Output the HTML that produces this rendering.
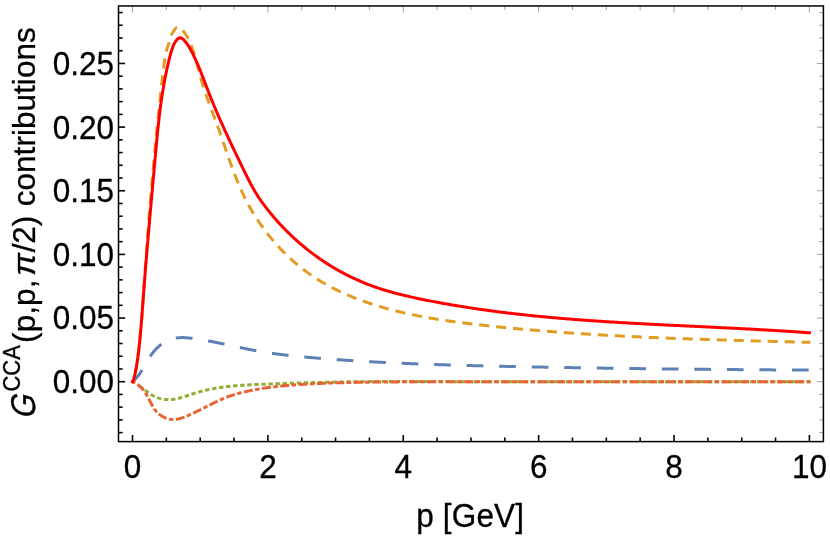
<!DOCTYPE html>
<html><head><meta charset="utf-8"><title>plot</title>
<style>
html,body{margin:0;padding:0;background:#fff;}
body{width:830px;height:538px;overflow:hidden;}
svg{display:block;will-change:transform;}
text{font-family:"Liberation Sans",sans-serif;fill:#000;stroke:#000;stroke-width:0.3px;}
.t{font-size:31.5px;}
.tk{stroke:#000;stroke-width:1.6;}
.tg{stroke:#666;stroke-width:0.6;}
.c{fill:none;stroke-width:3;stroke-linejoin:round;}
</style></head><body>
<svg width="830" height="538" viewBox="0 0 830 538">
<rect x="0" y="0" width="830" height="538" fill="#fff"/>
<g id="curves">
<path class="c" stroke="#5E81B5" stroke-dasharray="16.7 15.83" stroke-dashoffset="1.61" d="M132.50,381.70 L133.09,381.19 L133.67,380.67 L134.23,380.14 L134.78,379.60 L135.32,379.05 L135.84,378.48 L136.35,377.91 L136.86,377.32 L137.35,376.73 L137.83,376.13 L138.30,375.52 L138.77,374.90 L139.22,374.28 L139.67,373.64 L140.11,373.01 L140.55,372.36 L140.98,371.71 L141.40,371.06 L141.82,370.40 L142.23,369.73 L142.64,369.06 L143.05,368.39 L143.45,367.72 L143.86,367.04 L144.25,366.36 L144.65,365.68 L145.05,365.00 L145.45,364.32 L145.84,363.64 L146.24,362.95 L146.64,362.27 L147.04,361.59 L147.44,360.91 L147.85,360.24 L148.25,359.56 L148.66,358.89 L149.08,358.23 L149.50,357.56 L149.92,356.90 L150.35,356.25 L150.78,355.60 L151.22,354.95 L151.67,354.32 L152.12,353.68 L152.59,353.06 L153.06,352.44 L153.54,351.83 L154.03,351.23 L154.52,350.64 L155.03,350.06 L155.55,349.48 L156.08,348.92 L156.62,348.37 L157.17,347.82 L157.74,347.29 L158.31,346.77 L158.89,346.26 L159.49,345.77 L160.09,345.28 L160.70,344.81 L161.32,344.35 L161.96,343.90 L162.60,343.47 L163.24,343.05 L163.90,342.64 L164.57,342.25 L165.24,341.87 L165.92,341.51 L166.61,341.16 L167.30,340.82 L168.00,340.50 L168.71,340.20 L169.42,339.91 L170.14,339.64 L170.87,339.39 L171.60,339.15 L172.34,338.92 L173.08,338.72 L173.82,338.53 L174.57,338.36 L175.33,338.21 L176.09,338.07 L176.85,337.96 L177.62,337.86 L178.39,337.78 L179.16,337.71 L179.94,337.66 L180.72,337.63 L181.50,337.61 L182.28,337.60 L183.06,337.61 L183.85,337.62 L184.64,337.66 L185.42,337.70 L186.21,337.75 L187.00,337.81 L187.79,337.88 L188.58,337.96 L189.37,338.05 L190.16,338.14 L190.95,338.23 L191.74,338.33 L192.52,338.43 L193.31,338.53 L194.09,338.64 L194.88,338.75 L195.66,338.86 L196.44,338.97 L197.22,339.08 L197.99,339.20 L198.77,339.32 L199.55,339.44 L200.32,339.56 L201.09,339.68 L201.87,339.81 L202.64,339.94 L203.41,340.07 L204.18,340.20 L204.95,340.33 L205.71,340.46 L206.48,340.60 L207.25,340.74 L208.01,340.88 L208.77,341.02 L209.54,341.16 L210.30,341.30 L211.06,341.44 L211.82,341.59 L212.58,341.74 L213.34,341.88 L214.10,342.03 L214.86,342.18 L215.62,342.33 L216.37,342.49 L217.13,342.64 L217.88,342.79 L218.64,342.95 L219.39,343.10 L220.15,343.26 L220.90,343.42 L221.65,343.57 L222.41,343.73 L223.16,343.89 L223.91,344.05 L224.66,344.21 L225.41,344.37 L226.16,344.53 L226.91,344.69 L227.66,344.85 L228.41,345.01 L229.16,345.17 L229.91,345.34 L230.66,345.50 L231.41,345.66 L232.16,345.82 L232.91,345.98 L233.66,346.14 L234.41,346.31 L235.16,346.47 L235.90,346.63 L236.65,346.79 L237.40,346.95 L238.15,347.11 L238.90,347.27 L239.65,347.43 L240.40,347.59 L241.15,347.75 L241.90,347.91 L242.65,348.06 L243.40,348.22 L244.15,348.38 L244.90,348.53 L245.65,348.69 L246.40,348.84 L247.15,348.99 L247.90,349.14 L248.65,349.29 L249.40,349.44 L250.16,349.59 L250.91,349.74 L251.66,349.89 L252.42,350.03 L253.17,350.18 L253.93,350.32 L254.68,350.46 L255.44,350.60 L256.20,350.74 L256.95,350.87 L257.71,351.01 L258.47,351.14 L259.23,351.28 L259.99,351.41 L260.75,351.54 L261.51,351.67 L262.27,351.79 L263.03,351.92 L263.80,352.04 L264.56,352.17 L265.32,352.29 L266.09,352.41 L266.85,352.53 L267.62,352.64 L268.38,352.76 L269.15,352.88 L269.92,352.99 L270.68,353.10 L271.45,353.21 L272.22,353.32 L272.99,353.43 L273.76,353.54 L274.53,353.65 L275.30,353.75 L276.07,353.86 L276.84,353.96 L277.61,354.06 L278.38,354.16 L279.15,354.26 L279.93,354.36 L280.70,354.46 L281.47,354.56 L282.25,354.65 L283.02,354.75 L283.80,354.84 L284.57,354.93 L285.34,355.02 L286.12,355.12 L286.90,355.21 L287.67,355.29 L288.45,355.38 L289.22,355.47 L290.00,355.56 L290.78,355.64 L291.56,355.73 L292.33,355.81 L293.11,355.89 L293.89,355.97 L294.67,356.05 L295.45,356.14 L296.23,356.21 L297.00,356.29 L297.78,356.37 L298.56,356.45 L299.34,356.53 L300.12,356.60 L300.90,356.68 L301.68,356.75 L302.46,356.82 L303.24,356.90 L304.02,356.97 L304.80,357.04 L305.59,357.11 L306.37,357.18 L307.15,357.25 L307.93,357.32 L308.71,357.39 L309.49,357.46 L310.27,357.53 L311.05,357.60 L311.84,357.66 L312.62,357.73 L313.40,357.79 L314.18,357.86 L314.96,357.93 L315.74,357.99 L316.53,358.05 L317.31,358.12 L318.09,358.18 L318.87,358.24 L319.65,358.31 L320.43,358.37 L321.22,358.43 L322.00,358.49 L322.78,358.55 L323.56,358.61 L324.34,358.67 L325.12,358.73 L325.90,358.79 L326.69,358.85 L327.47,358.91 L328.25,358.97 L329.03,359.03 L329.81,359.09 L330.59,359.15 L331.37,359.20 L332.15,359.26 L332.94,359.32 L333.72,359.38 L334.50,359.43 L335.28,359.49 L336.06,359.54 L336.84,359.60 L337.62,359.65 L338.40,359.71 L339.18,359.76 L339.96,359.82 L340.74,359.87 L341.53,359.93 L342.31,359.98 L343.09,360.03 L343.87,360.08 L344.65,360.14 L345.43,360.19 L346.21,360.24 L346.99,360.29 L347.77,360.34 L348.55,360.39 L349.33,360.45 L350.11,360.50 L350.89,360.55 L351.67,360.60 L352.45,360.65 L353.23,360.69 L354.01,360.74 L354.79,360.79 L355.57,360.84 L356.35,360.89 L357.13,360.94 L357.91,360.98 L358.69,361.03 L359.47,361.08 L360.25,361.13 L361.03,361.17 L361.81,361.22 L362.59,361.26 L363.37,361.31 L364.15,361.35 L364.93,361.40 L365.71,361.44 L366.49,361.49 L367.27,361.53 L368.05,361.58 L368.83,361.62 L369.61,361.67 L370.39,361.71 L371.17,361.75 L371.95,361.79 L372.73,361.84 L373.50,361.88 L374.28,361.92 L375.06,361.96 L375.84,362.00 L376.62,362.05 L377.40,362.09 L378.18,362.13 L378.96,362.17 L379.74,362.21 L380.52,362.25 L381.30,362.29 L382.08,362.33 L382.85,362.37 L383.63,362.41 L384.41,362.44 L385.19,362.48 L385.97,362.52 L386.75,362.56 L387.53,362.60 L388.31,362.64 L389.08,362.67 L389.86,362.71 L390.64,362.75 L391.42,362.78 L392.20,362.82 L392.98,362.86 L393.76,362.89 L394.54,362.93 L395.31,362.96 L396.09,363.00 L396.87,363.04 L397.65,363.07 L398.43,363.11 L399.21,363.14 L399.98,363.17 L400.76,363.21 L401.54,363.24 L402.32,363.28 L403.10,363.31 L403.88,363.34 L404.65,363.38 L405.43,363.41 L406.21,363.44 L406.99,363.47 L407.77,363.51 L408.54,363.54 L409.32,363.57 L410.10,363.60 L410.88,363.63 L411.66,363.67 L412.43,363.70 L413.21,363.73 L413.99,363.76 L414.77,363.79 L415.55,363.82 L416.32,363.85 L417.10,363.88 L417.88,363.91 L418.66,363.94 L419.44,363.97 L420.21,364.00 L420.99,364.03 L421.77,364.06 L422.55,364.08 L423.32,364.11 L424.10,364.14 L424.88,364.17 L425.66,364.20 L426.43,364.23 L427.21,364.25 L427.99,364.28 L428.77,364.31 L429.54,364.33 L430.32,364.36 L431.10,364.39 L431.88,364.42 L432.65,364.44 L433.43,364.47 L434.21,364.49 L434.98,364.52 L435.76,364.55 L436.54,364.57 L437.32,364.60 L438.09,364.62 L438.87,364.65 L439.65,364.67 L440.43,364.70 L441.20,364.72 L441.98,364.75 L442.76,364.77 L443.53,364.80 L444.31,364.82 L445.09,364.85 L445.86,364.87 L446.64,364.89 L447.42,364.92 L448.20,364.94 L448.97,364.96 L449.75,364.99 L450.53,365.01 L451.30,365.03 L452.08,365.06 L452.86,365.08 L453.63,365.10 L454.41,365.12 L455.19,365.15 L455.96,365.17 L456.74,365.19 L457.52,365.21 L458.29,365.23 L459.07,365.26 L459.85,365.28 L460.62,365.30 L461.40,365.32 L462.18,365.34 L462.95,365.36 L463.73,365.38 L464.51,365.40 L465.28,365.43 L466.06,365.45 L466.84,365.47 L467.61,365.49 L468.39,365.51 L469.17,365.53 L469.94,365.55 L470.72,365.57 L471.50,365.59 L472.27,365.61 L473.05,365.63 L473.82,365.65 L474.60,365.67 L475.38,365.69 L476.15,365.71 L476.93,365.72 L477.71,365.74 L478.48,365.76 L479.26,365.78 L480.04,365.80 L480.81,365.82 L481.59,365.84 L482.36,365.86 L483.14,365.88 L483.92,365.89 L484.69,365.91 L485.47,365.93 L486.24,365.95 L487.02,365.97 L487.80,365.98 L488.57,366.00 L489.35,366.02 L490.13,366.04 L490.90,366.06 L491.68,366.07 L492.45,366.09 L493.23,366.11 L494.01,366.13 L494.78,366.14 L495.56,366.16 L496.33,366.18 L497.11,366.20 L497.89,366.21 L498.66,366.23 L499.44,366.25 L500.21,366.26 L500.99,366.28 L501.77,366.30 L502.54,366.31 L503.32,366.33 L504.09,366.35 L504.87,366.36 L505.64,366.38 L506.42,366.40 L507.20,366.41 L507.97,366.43 L508.75,366.45 L509.52,366.46 L510.30,366.48 L511.08,366.50 L511.85,366.51 L512.63,366.53 L513.40,366.54 L514.18,366.56 L514.95,366.58 L515.73,366.59 L516.51,366.61 L517.28,366.62 L518.06,366.64 L518.83,366.66 L519.61,366.67 L520.38,366.69 L521.16,366.70 L521.94,366.72 L522.71,366.73 L523.49,366.75 L524.26,366.77 L525.04,366.78 L525.81,366.80 L526.59,366.81 L527.36,366.83 L528.14,366.84 L528.92,366.86 L529.69,366.87 L530.47,366.89 L531.24,366.90 L532.02,366.92 L532.79,366.93 L533.57,366.95 L534.35,366.96 L535.12,366.98 L535.90,366.99 L536.67,367.01 L537.45,367.02 L538.22,367.04 L539.00,367.05 L539.77,367.07 L540.55,367.08 L541.32,367.10 L542.10,367.11 L542.88,367.12 L543.65,367.14 L544.43,367.15 L545.20,367.17 L545.98,367.18 L546.75,367.20 L547.53,367.21 L548.30,367.22 L549.08,367.24 L549.85,367.25 L550.63,367.27 L551.41,367.28 L552.18,367.29 L552.96,367.31 L553.73,367.32 L554.51,367.34 L555.28,367.35 L556.06,367.36 L556.83,367.38 L557.61,367.39 L558.38,367.40 L559.16,367.42 L559.94,367.43 L560.71,367.44 L561.49,367.46 L562.26,367.47 L563.04,367.48 L563.81,367.50 L564.59,367.51 L565.36,367.52 L566.14,367.54 L566.91,367.55 L567.69,367.56 L568.47,367.58 L569.24,367.59 L570.02,367.60 L570.79,367.62 L571.57,367.63 L572.34,367.64 L573.12,367.65 L573.89,367.67 L574.67,367.68 L575.44,367.69 L576.22,367.71 L576.99,367.72 L577.77,367.73 L578.55,367.74 L579.32,367.76 L580.10,367.77 L580.87,367.78 L581.65,367.79 L582.42,367.81 L583.20,367.82 L583.97,367.83 L584.75,367.84 L585.52,367.85 L586.30,367.87 L587.07,367.88 L587.85,367.89 L588.63,367.90 L589.40,367.92 L590.18,367.93 L590.95,367.94 L591.73,367.95 L592.50,367.96 L593.28,367.98 L594.05,367.99 L594.83,368.00 L595.60,368.01 L596.38,368.02 L597.16,368.03 L597.93,368.05 L598.71,368.06 L599.48,368.07 L600.26,368.08 L601.03,368.09 L601.81,368.10 L602.58,368.11 L603.36,368.13 L604.13,368.14 L604.91,368.15 L605.69,368.16 L606.46,368.17 L607.24,368.18 L608.01,368.19 L608.79,368.20 L609.56,368.22 L610.34,368.23 L611.11,368.24 L611.89,368.25 L612.67,368.26 L613.44,368.27 L614.22,368.28 L614.99,368.29 L615.77,368.30 L616.54,368.31 L617.32,368.32 L618.09,368.33 L618.87,368.35 L619.65,368.36 L620.42,368.37 L621.20,368.38 L621.97,368.39 L622.75,368.40 L623.52,368.41 L624.30,368.42 L625.08,368.43 L625.85,368.44 L626.63,368.45 L627.40,368.46 L628.18,368.47 L628.95,368.48 L629.73,368.49 L630.51,368.50 L631.28,368.51 L632.06,368.52 L632.83,368.53 L633.61,368.54 L634.38,368.55 L635.16,368.56 L635.94,368.57 L636.71,368.58 L637.49,368.59 L638.26,368.60 L639.04,368.61 L639.81,368.62 L640.59,368.63 L641.37,368.64 L642.14,368.65 L642.92,368.66 L643.69,368.67 L644.47,368.68 L645.25,368.69 L646.02,368.70 L646.80,368.71 L647.57,368.72 L648.35,368.73 L649.13,368.74 L649.90,368.74 L650.68,368.75 L651.45,368.76 L652.23,368.77 L653.01,368.78 L653.78,368.79 L654.56,368.80 L655.33,368.81 L656.11,368.82 L656.89,368.83 L657.66,368.84 L658.44,368.85 L659.21,368.85 L659.99,368.86 L660.77,368.87 L661.54,368.88 L662.32,368.89 L663.09,368.90 L663.87,368.91 L664.65,368.92 L665.42,368.92 L666.20,368.93 L666.98,368.94 L667.75,368.95 L668.53,368.96 L669.30,368.97 L670.08,368.98 L670.86,368.99 L671.63,368.99 L672.41,369.00 L673.19,369.01 L673.96,369.02 L674.74,369.03 L675.52,369.04 L676.29,369.04 L677.07,369.05 L677.85,369.06 L678.62,369.07 L679.40,369.08 L680.17,369.09 L680.95,369.09 L681.73,369.10 L682.50,369.11 L683.28,369.12 L684.06,369.13 L684.83,369.13 L685.61,369.14 L686.39,369.15 L687.16,369.16 L687.94,369.17 L688.72,369.17 L689.49,369.18 L690.27,369.19 L691.05,369.20 L691.82,369.20 L692.60,369.21 L693.38,369.22 L694.16,369.23 L694.93,369.24 L695.71,369.24 L696.49,369.25 L697.26,369.26 L698.04,369.27 L698.82,369.27 L699.59,369.28 L700.37,369.29 L701.15,369.30 L701.92,369.30 L702.70,369.31 L703.48,369.32 L704.26,369.33 L705.03,369.33 L705.81,369.34 L706.59,369.35 L707.36,369.35 L708.14,369.36 L708.92,369.37 L709.70,369.38 L710.47,369.38 L711.25,369.39 L712.03,369.40 L712.81,369.40 L713.58,369.41 L714.36,369.42 L715.14,369.43 L715.91,369.43 L716.69,369.44 L717.47,369.45 L718.25,369.45 L719.02,369.46 L719.80,369.47 L720.58,369.47 L721.36,369.48 L722.13,369.49 L722.91,369.49 L723.69,369.50 L724.47,369.51 L725.25,369.51 L726.02,369.52 L726.80,369.53 L727.58,369.53 L728.36,369.54 L729.13,369.55 L729.91,369.55 L730.69,369.56 L731.47,369.57 L732.25,369.57 L733.02,369.58 L733.80,369.59 L734.58,369.59 L735.36,369.60 L736.14,369.61 L736.91,369.61 L737.69,369.62 L738.47,369.63 L739.25,369.63 L740.03,369.64 L740.80,369.64 L741.58,369.65 L742.36,369.66 L743.14,369.66 L743.92,369.67 L744.69,369.67 L745.47,369.68 L746.25,369.69 L747.03,369.69 L747.81,369.70 L748.59,369.71 L749.37,369.71 L750.14,369.72 L750.92,369.72 L751.70,369.73 L752.48,369.74 L753.26,369.74 L754.04,369.75 L754.81,369.75 L755.59,369.76 L756.37,369.76 L757.15,369.77 L757.93,369.78 L758.71,369.78 L759.49,369.79 L760.27,369.79 L761.05,369.80 L761.82,369.80 L762.60,369.81 L763.38,369.82 L764.16,369.82 L764.94,369.83 L765.72,369.83 L766.50,369.84 L767.28,369.84 L768.06,369.85 L768.84,369.85 L769.61,369.86 L770.39,369.87 L771.17,369.87 L771.95,369.88 L772.73,369.88 L773.51,369.89 L774.29,369.89 L775.07,369.90 L775.85,369.90 L776.63,369.91 L777.41,369.91 L778.19,369.92 L778.97,369.93 L779.75,369.93 L780.53,369.94 L781.31,369.94 L782.09,369.95 L782.87,369.95 L783.65,369.96 L784.42,369.96 L785.20,369.97 L785.98,369.97 L786.76,369.98 L787.54,369.98 L788.32,369.99 L789.10,369.99 L789.88,370.00 L790.66,370.00 L791.44,370.01 L792.22,370.01 L793.00,370.02 L793.78,370.02 L794.56,370.03 L795.35,370.03 L796.13,370.04 L796.91,370.04 L797.69,370.05 L798.47,370.05 L799.25,370.06 L800.03,370.06 L800.81,370.07 L801.59,370.07 L802.37,370.08 L803.15,370.08 L803.93,370.09 L804.71,370.09 L805.49,370.09 L806.27,370.10 L807.05,370.10 L807.83,370.11 L808.61,370.11 L809.40,370.12 L810.40,370.12"/>
<path class="c" stroke="#E19C24" stroke-dasharray="10.1 6.9" stroke-dashoffset="7.91" d="M132.50,381.70 L132.98,380.56 L133.43,379.40 L133.85,378.21 L134.23,377.00 L134.59,375.78 L134.92,374.54 L135.22,373.28 L135.51,372.02 L135.77,370.74 L136.02,369.45 L136.25,368.16 L136.47,366.87 L136.67,365.57 L136.87,364.27 L137.06,362.98 L137.25,361.69 L137.43,360.40 L137.60,359.12 L137.77,357.83 L137.94,356.55 L138.10,355.27 L138.26,354.00 L138.41,352.72 L138.56,351.45 L138.71,350.18 L138.85,348.91 L138.99,347.64 L139.13,346.37 L139.27,345.10 L139.40,343.83 L139.53,342.56 L139.66,341.29 L139.79,340.02 L139.91,338.75 L140.04,337.48 L140.16,336.21 L140.28,334.94 L140.40,333.66 L140.52,332.39 L140.63,331.11 L140.75,329.84 L140.86,328.56 L140.98,327.29 L141.09,326.01 L141.20,324.73 L141.31,323.46 L141.42,322.18 L141.52,320.90 L141.63,319.62 L141.73,318.34 L141.84,317.06 L141.94,315.78 L142.04,314.50 L142.14,313.22 L142.24,311.94 L142.34,310.65 L142.44,309.37 L142.54,308.09 L142.63,306.81 L142.73,305.52 L142.82,304.24 L142.92,302.95 L143.01,301.67 L143.10,300.38 L143.20,299.10 L143.29,297.81 L143.38,296.53 L143.47,295.24 L143.56,293.96 L143.65,292.67 L143.74,291.38 L143.83,290.10 L143.92,288.81 L144.01,287.52 L144.09,286.23 L144.18,284.95 L144.27,283.66 L144.36,282.37 L144.45,281.08 L144.53,279.79 L144.62,278.51 L144.71,277.22 L144.79,275.93 L144.88,274.64 L144.97,273.35 L145.05,272.06 L145.14,270.77 L145.23,269.49 L145.32,268.20 L145.40,266.91 L145.49,265.62 L145.58,264.33 L145.67,263.04 L145.76,261.75 L145.85,260.46 L145.94,259.17 L146.03,257.89 L146.12,256.60 L146.21,255.31 L146.30,254.02 L146.39,252.73 L146.48,251.44 L146.57,250.15 L146.67,248.87 L146.76,247.58 L146.85,246.29 L146.95,245.00 L147.04,243.71 L147.13,242.43 L147.23,241.14 L147.32,239.85 L147.42,238.56 L147.52,237.28 L147.61,235.99 L147.71,234.70 L147.81,233.41 L147.90,232.13 L148.00,230.84 L148.10,229.55 L148.20,228.26 L148.30,226.98 L148.40,225.69 L148.50,224.40 L148.60,223.12 L148.70,221.83 L148.80,220.55 L148.90,219.26 L149.00,217.97 L149.11,216.69 L149.21,215.40 L149.31,214.12 L149.42,212.83 L149.52,211.55 L149.62,210.26 L149.73,208.98 L149.83,207.69 L149.94,206.41 L150.04,205.12 L150.15,203.84 L150.25,202.55 L150.36,201.27 L150.47,199.98 L150.58,198.70 L150.68,197.42 L150.79,196.13 L150.90,194.85 L151.01,193.57 L151.12,192.28 L151.23,191.00 L151.34,189.72 L151.45,188.43 L151.56,187.15 L151.67,185.87 L151.78,184.59 L151.89,183.31 L152.01,182.02 L152.12,180.74 L152.23,179.46 L152.34,178.18 L152.46,176.90 L152.57,175.62 L152.69,174.34 L152.80,173.06 L152.92,171.78 L153.03,170.50 L153.15,169.22 L153.26,167.94 L153.38,166.66 L153.50,165.38 L153.61,164.10 L153.73,162.82 L153.85,161.54 L153.97,160.27 L154.08,158.99 L154.20,157.71 L154.32,156.43 L154.44,155.15 L154.56,153.88 L154.68,152.60 L154.80,151.32 L154.92,150.05 L155.05,148.77 L155.17,147.50 L155.29,146.22 L155.41,144.94 L155.53,143.67 L155.66,142.39 L155.78,141.12 L155.90,139.85 L156.03,138.57 L156.15,137.30 L156.28,136.02 L156.40,134.75 L156.53,133.48 L156.65,132.20 L156.78,130.93 L156.91,129.66 L157.03,128.39 L157.16,127.12 L157.29,125.84 L157.42,124.57 L157.54,123.30 L157.67,122.03 L157.80,120.76 L157.93,119.49 L158.06,118.22 L158.19,116.95 L158.32,115.68 L158.45,114.41 L158.58,113.14 L158.71,111.88 L158.84,110.61 L158.98,109.34 L159.11,108.07 L159.24,106.81 L159.37,105.54 L159.51,104.27 L159.64,103.01 L159.77,101.74 L159.91,100.48 L160.04,99.21 L160.18,97.95 L160.31,96.68 L160.45,95.42 L160.58,94.15 L160.72,92.89 L160.86,91.63 L160.99,90.36 L161.13,89.10 L161.27,87.84 L161.41,86.57 L161.55,85.31 L161.69,84.04 L161.83,82.78 L161.98,81.51 L162.12,80.24 L162.27,78.97 L162.42,77.70 L162.57,76.43 L162.72,75.16 L162.87,73.89 L163.03,72.61 L163.19,71.33 L163.35,70.05 L163.51,68.77 L163.68,67.48 L163.84,66.20 L164.01,64.91 L164.19,63.61 L164.36,62.32 L164.55,61.02 L164.73,59.73 L164.93,58.43 L165.14,57.14 L165.37,55.86 L165.60,54.58 L165.86,53.31 L166.14,52.05 L166.43,50.80 L166.75,49.57 L167.10,48.35 L167.48,47.14 L167.88,45.95 L168.29,44.77 L168.68,43.57 L169.04,42.35 L169.36,41.11 L169.67,39.85 L169.99,38.59 L170.36,37.35 L170.79,36.13 L171.32,34.95 L171.95,33.82 L172.65,32.71 L173.36,31.59 L174.04,30.46 L174.74,29.35 L175.56,28.38 L176.62,27.66 L177.91,27.30 L179.19,27.37 L180.30,27.87 L181.29,28.67 L182.19,29.67 L183.03,30.75 L183.83,31.83 L184.59,32.89 L185.33,33.95 L186.04,35.00 L186.72,36.06 L187.37,37.14 L188.00,38.24 L188.60,39.36 L189.17,40.51 L189.72,41.68 L190.25,42.86 L190.76,44.06 L191.25,45.26 L191.72,46.47 L192.17,47.68 L192.61,48.89 L193.02,50.11 L193.43,51.32 L193.82,52.54 L194.20,53.76 L194.56,54.97 L194.92,56.19 L195.27,57.41 L195.60,58.63 L195.94,59.85 L196.26,61.08 L196.58,62.30 L196.90,63.52 L197.21,64.75 L197.52,65.97 L197.83,67.20 L198.15,68.42 L198.46,69.65 L198.78,70.88 L199.09,72.10 L199.42,73.33 L199.75,74.56 L200.09,75.79 L200.43,77.02 L200.78,78.25 L201.14,79.48 L201.51,80.71 L201.88,81.94 L202.26,83.17 L202.64,84.40 L203.04,85.63 L203.43,86.86 L203.84,88.10 L204.24,89.33 L204.66,90.56 L205.07,91.79 L205.49,93.02 L205.92,94.26 L206.35,95.49 L206.78,96.72 L207.22,97.95 L207.66,99.18 L208.10,100.41 L208.55,101.65 L209.00,102.88 L209.45,104.11 L209.90,105.34 L210.35,106.57 L210.81,107.80 L211.27,109.03 L211.72,110.26 L212.18,111.49 L212.64,112.72 L213.10,113.94 L213.56,115.17 L214.02,116.40 L214.47,117.63 L214.93,118.85 L215.38,120.08 L215.84,121.30 L216.29,122.53 L216.74,123.75 L217.19,124.97 L217.64,126.20 L218.08,127.42 L218.52,128.64 L218.96,129.86 L219.39,131.08 L219.82,132.30 L220.25,133.51 L220.68,134.73 L221.10,135.95 L221.53,137.16 L221.95,138.37 L222.37,139.59 L222.78,140.80 L223.20,142.01 L223.62,143.22 L224.03,144.43 L224.44,145.63 L224.86,146.84 L225.27,148.05 L225.68,149.25 L226.09,150.45 L226.51,151.66 L226.92,152.86 L227.33,154.06 L227.75,155.25 L228.16,156.45 L228.58,157.65 L228.99,158.84 L229.41,160.03 L229.83,161.23 L230.26,162.42 L230.68,163.61 L231.11,164.79 L231.53,165.98 L231.96,167.16 L232.40,168.35 L232.83,169.53 L233.27,170.71 L233.72,171.89 L234.16,173.07 L234.61,174.24 L235.06,175.41 L235.52,176.59 L235.98,177.76 L236.45,178.93 L236.92,180.09 L237.39,181.26 L237.87,182.42 L238.36,183.59 L238.85,184.75 L239.34,185.91 L239.84,187.06 L240.35,188.22 L240.86,189.37 L241.38,190.52 L241.90,191.67 L242.43,192.82 L242.97,193.97 L243.51,195.11 L244.07,196.25 L244.62,197.39 L245.19,198.53 L245.76,199.67 L246.34,200.80 L246.93,201.93 L247.53,203.06 L248.13,204.19 L248.75,205.32 L249.37,206.44 L250.00,207.56 L250.63,208.68 L251.28,209.79 L251.93,210.91 L252.59,212.02 L253.26,213.13 L253.94,214.23 L254.62,215.33 L255.31,216.43 L256.01,217.53 L256.71,218.62 L257.43,219.71 L258.15,220.79 L258.88,221.87 L259.61,222.95 L260.35,224.03 L261.10,225.10 L261.86,226.16 L262.62,227.23 L263.40,228.29 L264.17,229.34 L264.96,230.39 L265.75,231.44 L266.55,232.48 L267.35,233.52 L268.16,234.55 L268.98,235.58 L269.80,236.60 L270.64,237.62 L271.47,238.63 L272.32,239.64 L273.17,240.64 L274.02,241.64 L274.89,242.63 L275.75,243.62 L276.63,244.60 L277.51,245.58 L278.40,246.55 L279.29,247.51 L280.19,248.47 L281.09,249.43 L282.00,250.37 L282.92,251.31 L283.84,252.25 L284.77,253.18 L285.70,254.10 L286.64,255.02 L287.59,255.93 L288.54,256.83 L289.49,257.72 L290.45,258.61 L291.42,259.50 L292.39,260.37 L293.36,261.24 L294.34,262.10 L295.33,262.95 L296.32,263.80 L297.32,264.64 L298.32,265.47 L299.32,266.29 L300.33,267.11 L301.35,267.92 L302.37,268.72 L303.39,269.51 L304.42,270.30 L305.45,271.07 L306.49,271.84 L307.53,272.60 L308.58,273.35 L309.63,274.10 L310.69,274.83 L311.74,275.56 L312.81,276.28 L313.88,276.99 L314.95,277.69 L316.02,278.39 L317.10,279.07 L318.18,279.75 L319.27,280.43 L320.36,281.09 L321.46,281.75 L322.56,282.40 L323.66,283.04 L324.76,283.67 L325.87,284.30 L326.98,284.92 L328.10,285.53 L329.22,286.14 L330.34,286.74 L331.46,287.33 L332.59,287.91 L333.72,288.49 L334.86,289.06 L336.00,289.63 L337.14,290.19 L338.28,290.74 L339.43,291.28 L340.58,291.82 L341.73,292.36 L342.88,292.88 L344.04,293.41 L345.20,293.92 L346.36,294.43 L347.53,294.93 L348.69,295.43 L349.86,295.92 L351.03,296.41 L352.21,296.89 L353.39,297.37 L354.56,297.84 L355.74,298.30 L356.93,298.76 L358.11,299.21 L359.30,299.66 L360.49,300.11 L361.68,300.54 L362.87,300.98 L364.07,301.40 L365.26,301.83 L366.46,302.25 L367.66,302.66 L368.87,303.07 L370.07,303.47 L371.28,303.87 L372.49,304.26 L373.70,304.65 L374.91,305.04 L376.12,305.42 L377.34,305.79 L378.55,306.16 L379.77,306.53 L380.99,306.89 L382.22,307.24 L383.44,307.60 L384.67,307.95 L385.89,308.29 L387.12,308.63 L388.35,308.96 L389.58,309.30 L390.82,309.62 L392.05,309.95 L393.29,310.27 L394.53,310.58 L395.76,310.89 L397.01,311.20 L398.25,311.50 L399.49,311.80 L400.74,312.10 L401.98,312.39 L403.23,312.68 L404.48,312.96 L405.73,313.24 L406.98,313.52 L408.23,313.79 L409.48,314.06 L410.74,314.33 L412.00,314.60 L413.25,314.86 L414.51,315.11 L415.77,315.37 L417.03,315.62 L418.29,315.86 L419.55,316.11 L420.82,316.35 L422.08,316.59 L423.35,316.82 L424.61,317.05 L425.88,317.28 L427.15,317.51 L428.42,317.73 L429.69,317.95 L430.96,318.17 L432.23,318.39 L433.50,318.60 L434.77,318.81 L436.05,319.02 L437.32,319.22 L438.60,319.42 L439.87,319.62 L441.15,319.82 L442.42,320.01 L443.70,320.21 L444.98,320.40 L446.26,320.59 L447.54,320.77 L448.82,320.96 L450.10,321.14 L451.38,321.32 L452.66,321.49 L453.94,321.67 L455.22,321.84 L456.51,322.02 L457.79,322.19 L459.07,322.35 L460.36,322.52 L461.64,322.69 L462.92,322.85 L464.21,323.01 L465.49,323.17 L466.78,323.33 L468.06,323.49 L469.35,323.64 L470.63,323.80 L471.92,323.95 L473.20,324.10 L474.49,324.25 L475.77,324.40 L477.06,324.55 L478.35,324.69 L479.63,324.84 L480.92,324.98 L482.20,325.13 L483.49,325.27 L484.77,325.41 L486.06,325.55 L487.34,325.69 L488.63,325.83 L489.91,325.97 L491.20,326.10 L492.48,326.24 L493.77,326.37 L495.05,326.51 L496.34,326.64 L497.62,326.77 L498.91,326.91 L500.19,327.04 L501.48,327.17 L502.76,327.30 L504.04,327.42 L505.33,327.55 L506.61,327.68 L507.90,327.80 L509.18,327.93 L510.46,328.05 L511.75,328.17 L513.03,328.30 L514.31,328.42 L515.60,328.54 L516.88,328.66 L518.16,328.78 L519.45,328.90 L520.73,329.01 L522.01,329.13 L523.30,329.25 L524.58,329.36 L525.86,329.47 L527.14,329.59 L528.43,329.70 L529.71,329.81 L530.99,329.92 L532.27,330.03 L533.56,330.14 L534.84,330.25 L536.12,330.36 L537.40,330.47 L538.69,330.57 L539.97,330.68 L541.25,330.78 L542.53,330.89 L543.81,330.99 L545.10,331.09 L546.38,331.20 L547.66,331.30 L548.94,331.40 L550.22,331.50 L551.50,331.60 L552.79,331.69 L554.07,331.79 L555.35,331.89 L556.63,331.99 L557.91,332.08 L559.19,332.18 L560.47,332.27 L561.76,332.36 L563.04,332.46 L564.32,332.55 L565.60,332.64 L566.88,332.73 L568.16,332.82 L569.44,332.91 L570.72,333.00 L572.00,333.09 L573.29,333.18 L574.57,333.26 L575.85,333.35 L577.13,333.43 L578.41,333.52 L579.69,333.60 L580.97,333.69 L582.25,333.77 L583.53,333.85 L584.81,333.93 L586.09,334.02 L587.37,334.10 L588.65,334.18 L589.94,334.26 L591.22,334.34 L592.50,334.41 L593.78,334.49 L595.06,334.57 L596.34,334.64 L597.62,334.72 L598.90,334.80 L600.18,334.87 L601.46,334.95 L602.74,335.02 L604.02,335.09 L605.30,335.16 L606.58,335.24 L607.86,335.31 L609.14,335.38 L610.42,335.45 L611.70,335.52 L612.98,335.59 L614.26,335.66 L615.54,335.73 L616.82,335.79 L618.11,335.86 L619.39,335.93 L620.67,335.99 L621.95,336.06 L623.23,336.13 L624.51,336.19 L625.79,336.25 L627.07,336.32 L628.35,336.38 L629.63,336.44 L630.91,336.51 L632.19,336.57 L633.47,336.63 L634.75,336.69 L636.03,336.75 L637.31,336.81 L638.59,336.87 L639.87,336.93 L641.15,336.99 L642.43,337.05 L643.71,337.11 L644.99,337.16 L646.28,337.22 L647.56,337.28 L648.84,337.33 L650.12,337.39 L651.40,337.44 L652.68,337.50 L653.96,337.55 L655.24,337.61 L656.52,337.66 L657.80,337.72 L659.08,337.77 L660.36,337.82 L661.64,337.87 L662.93,337.93 L664.21,337.98 L665.49,338.03 L666.77,338.08 L668.05,338.13 L669.33,338.18 L670.61,338.23 L671.89,338.28 L673.17,338.33 L674.46,338.38 L675.74,338.42 L677.02,338.47 L678.30,338.52 L679.58,338.57 L680.86,338.61 L682.14,338.66 L683.43,338.71 L684.71,338.75 L685.99,338.80 L687.27,338.84 L688.55,338.89 L689.84,338.93 L691.12,338.98 L692.40,339.02 L693.68,339.07 L694.96,339.11 L696.25,339.15 L697.53,339.20 L698.81,339.24 L700.09,339.28 L701.37,339.33 L702.66,339.37 L703.94,339.41 L705.22,339.45 L706.50,339.49 L707.79,339.53 L709.07,339.58 L710.35,339.62 L711.64,339.66 L712.92,339.70 L714.20,339.74 L715.49,339.78 L716.77,339.82 L718.05,339.86 L719.34,339.90 L720.62,339.93 L721.90,339.97 L723.19,340.01 L724.47,340.05 L725.75,340.09 L727.04,340.13 L728.32,340.16 L729.60,340.20 L730.89,340.24 L732.17,340.28 L733.46,340.31 L734.74,340.35 L736.03,340.39 L737.31,340.43 L738.60,340.46 L739.88,340.50 L741.16,340.53 L742.45,340.57 L743.73,340.61 L745.02,340.64 L746.30,340.68 L747.59,340.71 L748.88,340.75 L750.16,340.79 L751.45,340.82 L752.73,340.86 L754.02,340.89 L755.30,340.93 L756.59,340.96 L757.88,341.00 L759.16,341.03 L760.45,341.07 L761.73,341.10 L763.02,341.14 L764.31,341.17 L765.59,341.20 L766.88,341.24 L768.17,341.27 L769.45,341.31 L770.74,341.34 L772.03,341.38 L773.32,341.41 L774.60,341.44 L775.89,341.48 L777.18,341.51 L778.47,341.55 L779.75,341.58 L781.04,341.62 L782.33,341.65 L783.62,341.68 L784.91,341.72 L786.20,341.75 L787.48,341.79 L788.77,341.82 L790.06,341.85 L791.35,341.89 L792.64,341.92 L793.93,341.96 L795.22,341.99 L796.51,342.02 L797.80,342.06 L799.09,342.09 L800.38,342.13 L801.67,342.16 L802.96,342.20 L804.25,342.23 L805.54,342.26 L806.83,342.30 L808.12,342.33 L809.41,342.37 L810.40,342.39"/>
<path class="c" stroke="#8FB032" stroke-dasharray="4.4 2.68" stroke-dashoffset="5.03" d="M137.77,384.76 L138.39,385.20 L139.00,385.65 L139.61,386.09 L140.21,386.53 L140.82,386.98 L141.41,387.42 L142.01,387.86 L142.61,388.30 L143.20,388.75 L143.80,389.19 L144.40,389.63 L145.00,390.08 L145.60,390.53 L146.21,390.99 L146.82,391.45 L147.43,391.91 L148.05,392.37 L148.67,392.84 L149.29,393.29 L149.93,393.74 L150.57,394.19 L151.22,394.62 L151.87,395.03 L152.53,395.43 L153.20,395.81 L153.88,396.18 L154.57,396.52 L155.27,396.84 L155.97,397.15 L156.68,397.43 L157.39,397.70 L158.11,397.95 L158.84,398.18 L159.57,398.39 L160.31,398.58 L161.05,398.76 L161.79,398.92 L162.54,399.06 L163.29,399.19 L164.05,399.30 L164.80,399.39 L165.56,399.46 L166.32,399.52 L167.08,399.56 L167.84,399.59 L168.60,399.60 L169.37,399.59 L170.13,399.57 L170.89,399.54 L171.65,399.49 L172.40,399.42 L173.16,399.34 L173.91,399.24 L174.66,399.13 L175.41,399.01 L176.15,398.87 L176.89,398.72 L177.63,398.56 L178.37,398.39 L179.11,398.21 L179.84,398.02 L180.58,397.82 L181.31,397.62 L182.04,397.40 L182.77,397.18 L183.50,396.96 L184.23,396.72 L184.95,396.49 L185.68,396.25 L186.41,396.01 L187.13,395.76 L187.86,395.51 L188.58,395.26 L189.30,395.02 L190.03,394.77 L190.75,394.52 L191.48,394.27 L192.20,394.03 L192.93,393.79 L193.66,393.55 L194.38,393.32 L195.11,393.09 L195.84,392.86 L196.57,392.64 L197.30,392.43 L198.03,392.21 L198.76,392.01 L199.49,391.80 L200.23,391.60 L200.96,391.40 L201.69,391.21 L202.43,391.02 L203.17,390.84 L203.90,390.66 L204.64,390.48 L205.38,390.31 L206.11,390.13 L206.85,389.97 L207.59,389.80 L208.33,389.64 L209.07,389.49 L209.81,389.33 L210.56,389.18 L211.30,389.04 L212.04,388.89 L212.79,388.75 L213.53,388.62 L214.27,388.48 L215.02,388.35 L215.76,388.22 L216.51,388.10 L217.26,387.98 L218.00,387.86 L218.75,387.74 L219.50,387.63 L220.25,387.52 L221.00,387.41 L221.75,387.30 L222.50,387.20 L223.25,387.10 L224.00,387.00 L224.75,386.90 L225.50,386.81 L226.25,386.72 L227.00,386.63 L227.76,386.55 L228.51,386.46 L229.26,386.38 L230.02,386.30 L230.77,386.22 L231.53,386.15 L232.28,386.07 L233.04,386.00 L233.79,385.93 L234.55,385.86 L235.30,385.80 L236.06,385.73 L236.82,385.67 L237.57,385.61 L238.33,385.55 L239.09,385.49 L239.85,385.44 L240.60,385.38 L241.36,385.33 L242.12,385.28 L242.88,385.23 L243.64,385.18 L244.40,385.13 L245.16,385.09 L245.91,385.04 L246.67,385.00 L247.43,384.95 L248.19,384.91 L248.95,384.87 L249.71,384.83 L250.47,384.79 L251.23,384.75 L252.00,384.72 L252.76,384.68 L253.52,384.64 L254.28,384.61 L255.04,384.57 L255.80,384.54 L256.56,384.51 L257.32,384.48 L258.08,384.44 L258.84,384.41 L259.61,384.38 L260.37,384.35 L261.13,384.32 L261.89,384.29 L262.65,384.26 L263.41,384.23 L264.17,384.20 L264.93,384.17 L265.70,384.14 L266.46,384.11 L267.22,384.08 L267.98,384.05 L268.74,384.02 L269.50,383.99 L270.26,383.96 L271.02,383.93 L271.78,383.90 L272.55,383.88 L273.31,383.85 L274.07,383.82 L274.83,383.79 L275.59,383.77 L276.35,383.74 L277.11,383.71 L277.87,383.68 L278.64,383.66 L279.40,383.63 L280.16,383.60 L280.92,383.58 L281.68,383.55 L282.44,383.53 L283.20,383.50 L283.96,383.47 L284.72,383.45 L285.48,383.42 L286.25,383.40 L287.01,383.37 L287.77,383.35 L288.53,383.32 L289.29,383.30 L290.05,383.28 L290.81,383.25 L291.57,383.23 L292.33,383.20 L293.10,383.18 L293.86,383.16 L294.62,383.13 L295.38,383.11 L296.14,383.09 L296.90,383.06 L297.66,383.04 L298.42,383.02 L299.18,383.00 L299.94,382.97 L300.71,382.95 L301.47,382.93 L302.23,382.91 L302.99,382.89 L303.75,382.87 L304.51,382.84 L305.27,382.82 L306.03,382.80 L306.79,382.78 L307.55,382.76 L308.31,382.74 L309.08,382.72 L309.84,382.70 L310.60,382.68 L311.36,382.66 L312.12,382.64 L312.88,382.62 L313.64,382.60 L314.40,382.58 L315.16,382.56 L315.92,382.54 L316.68,382.52 L317.44,382.51 L318.21,382.49 L318.97,382.47 L319.73,382.45 L320.49,382.43 L321.25,382.41 L322.01,382.40 L322.77,382.38 L323.53,382.36 L324.29,382.34 L325.05,382.33 L325.81,382.31 L326.57,382.29 L327.34,382.28 L328.10,382.26 L328.86,382.24 L329.62,382.23 L330.38,382.21 L331.14,382.19 L331.90,382.18 L332.66,382.16 L333.42,382.15 L334.18,382.13 L334.94,382.11 L335.70,382.10 L336.46,382.08 L337.22,382.07 L337.99,382.05 L338.75,382.04 L339.51,382.02 L340.27,382.01 L341.03,382.00 L341.79,381.98 L342.55,381.97 L343.31,381.95 L344.07,381.94 L344.83,381.93 L345.59,381.91 L346.35,381.90 L347.11,381.89 L347.87,381.87 L348.63,381.86 L349.40,381.85 L350.16,381.83 L350.92,381.82 L351.68,381.81 L352.44,381.80 L353.20,381.78 L353.96,381.77 L354.72,381.76 L355.48,381.75 L356.24,381.74 L357.00,381.72 L357.76,381.71 L358.52,381.70 L359.28,381.69 L360.04,381.68 L360.80,381.67 L361.57,381.66 L362.33,381.65 L363.09,381.64 L363.85,381.63 L364.61,381.62 L365.37,381.61 L366.13,381.60 L366.89,381.59 L367.65,381.58 L368.41,381.57 L369.17,381.56 L369.93,381.55 L370.69,381.55 L371.45,381.54 L372.21,381.53 L372.97,381.52 L373.73,381.52 L374.49,381.51 L375.25,381.50 L376.02,381.50 L376.78,381.49 L377.54,381.48 L378.30,381.48 L379.06,381.47 L379.82,381.47 L380.58,381.46 L381.34,381.46 L382.10,381.45 L382.86,381.45 L383.62,381.44 L384.38,381.44 L385.14,381.43 L385.90,381.43 L386.66,381.43 L387.42,381.42 L388.18,381.42 L388.94,381.42 L389.70,381.41 L390.46,381.41 L391.22,381.41 L391.98,381.41 L392.74,381.41 L393.51,381.40 L394.27,381.40 L395.03,381.40 L395.79,381.40 L396.55,381.40 L397.31,381.40 L398.07,381.40 L398.83,381.40 L399.59,381.40 L400.35,381.40 L401.11,381.40 L401.87,381.40 L402.63,381.40 L403.39,381.40 L404.15,381.40 L404.91,381.40 L405.67,381.40 L406.43,381.40 L407.19,381.40 L407.95,381.40 L408.71,381.41 L409.47,381.41 L410.23,381.41 L410.99,381.41 L411.75,381.41 L412.51,381.42 L413.27,381.42 L414.04,381.42 L414.80,381.42 L415.56,381.43 L416.32,381.43 L417.08,381.43 L417.84,381.44 L418.60,381.44 L419.36,381.44 L420.12,381.45 L420.88,381.45 L421.64,381.45 L422.40,381.46 L423.16,381.46 L423.92,381.46 L424.68,381.47 L425.44,381.47 L426.20,381.47 L426.96,381.48 L427.72,381.48 L428.48,381.49 L429.24,381.49 L430.00,381.49 L430.76,381.50 L431.52,381.50 L432.28,381.51 L433.04,381.51 L433.80,381.52 L434.56,381.52 L435.32,381.52 L436.08,381.53 L436.84,381.53 L437.60,381.54 L438.36,381.54 L439.12,381.55 L439.88,381.55 L440.64,381.55 L441.40,381.56 L442.17,381.56 L442.93,381.57 L443.69,381.57 L444.45,381.57 L445.21,381.58 L445.97,381.58 L446.73,381.59 L447.49,381.59 L448.25,381.59 L449.01,381.60 L449.77,381.60 L450.53,381.61 L451.29,381.61 L452.05,381.61 L452.81,381.62 L453.57,381.62 L454.33,381.63 L455.09,381.63 L455.85,381.63 L456.61,381.64 L457.37,381.64 L458.13,381.64 L458.89,381.65 L459.65,381.65 L460.41,381.65 L461.17,381.65 L461.93,381.66 L462.69,381.66 L463.45,381.66 L464.21,381.67 L464.97,381.67 L465.73,381.67 L466.49,381.67 L467.25,381.67 L468.01,381.68 L468.77,381.68 L469.53,381.68 L470.29,381.68 L471.05,381.68 L471.81,381.69 L472.57,381.69 L473.33,381.69 L474.09,381.69 L474.85,381.69 L475.61,381.69 L476.37,381.69 L477.13,381.70 L477.89,381.70 L478.65,381.70 L479.41,381.70 L480.17,381.70 L480.93,381.70 L481.69,381.70 L482.45,381.70 L483.21,381.70 L483.97,381.70 L484.73,381.70 L485.49,381.70 L486.25,381.70 L487.01,381.70 L487.77,381.70 L488.53,381.70 L489.30,381.70 L490.06,381.70 L490.82,381.70 L491.58,381.70 L492.34,381.70 L493.10,381.70 L493.86,381.70 L494.62,381.70 L495.38,381.70 L496.14,381.70 L496.90,381.70 L497.66,381.70 L498.42,381.70 L499.18,381.70 L499.94,381.70 L500.70,381.70 L501.46,381.70 L502.22,381.70 L502.98,381.70 L503.74,381.70 L504.50,381.70 L505.26,381.70 L506.02,381.70 L506.78,381.70 L507.54,381.70 L508.30,381.70 L509.06,381.70 L509.82,381.70 L510.58,381.70 L511.34,381.70 L512.10,381.70 L512.86,381.70 L513.62,381.70 L514.38,381.70 L515.14,381.70 L515.90,381.70 L516.66,381.70 L517.42,381.70 L518.18,381.70 L518.94,381.70 L519.70,381.70 L520.46,381.70 L521.22,381.70 L521.98,381.70 L522.74,381.70 L523.50,381.70 L524.26,381.70 L525.02,381.70 L525.78,381.70 L526.54,381.70 L527.30,381.70 L528.06,381.70 L528.82,381.70 L529.58,381.70 L530.34,381.70 L531.10,381.70 L531.86,381.70 L532.62,381.70 L533.38,381.70 L534.14,381.70 L534.90,381.70 L535.66,381.70 L536.42,381.70 L537.18,381.70 L537.94,381.70 L538.70,381.70 L539.46,381.70 L540.22,381.70 L540.98,381.70 L541.74,381.70 L542.50,381.70 L543.26,381.70 L544.02,381.70 L544.78,381.70 L545.54,381.70 L546.30,381.70 L547.06,381.70 L547.82,381.70 L548.58,381.70 L549.34,381.70 L550.10,381.70 L550.86,381.70 L551.62,381.70 L552.38,381.70 L553.14,381.70 L553.90,381.70 L554.66,381.70 L555.42,381.70 L556.18,381.70 L556.94,381.70 L557.70,381.70 L558.46,381.70 L559.22,381.70 L559.98,381.70 L560.74,381.70 L561.50,381.70 L562.26,381.70 L563.02,381.70 L563.78,381.70 L564.54,381.70 L565.30,381.70 L566.06,381.70 L566.82,381.70 L567.58,381.70 L568.34,381.70 L569.10,381.70 L569.86,381.70 L570.62,381.70 L571.38,381.70 L572.14,381.70 L572.90,381.70 L573.66,381.70 L574.42,381.70 L575.18,381.70 L575.94,381.70 L576.70,381.70 L577.46,381.70 L578.22,381.70 L578.98,381.70 L579.74,381.70 L580.50,381.70 L581.26,381.70 L582.02,381.70 L582.78,381.70 L583.54,381.70 L584.30,381.70 L585.06,381.70 L585.82,381.70 L586.58,381.70 L587.34,381.70 L588.10,381.70 L588.86,381.70 L589.62,381.70 L590.38,381.70 L591.15,381.70 L591.91,381.70 L592.67,381.70 L593.43,381.70 L594.19,381.70 L594.95,381.70 L595.71,381.70 L596.47,381.70 L597.23,381.70 L597.99,381.70 L598.75,381.70 L599.51,381.70 L600.27,381.70 L601.03,381.70 L601.79,381.70 L602.55,381.70 L603.31,381.70 L604.07,381.70 L604.83,381.70 L605.59,381.70 L606.35,381.70 L607.11,381.70 L607.87,381.70 L608.63,381.70 L609.39,381.70 L610.15,381.70 L610.91,381.70 L611.67,381.70 L612.43,381.70 L613.19,381.70 L613.95,381.70 L614.71,381.70 L615.47,381.70 L616.23,381.70 L616.99,381.70 L617.75,381.70 L618.51,381.70 L619.27,381.70 L620.03,381.70 L620.79,381.70 L621.55,381.70 L622.31,381.70 L623.07,381.70 L623.83,381.70 L624.59,381.70 L625.35,381.70 L626.11,381.70 L626.87,381.70 L627.63,381.70 L628.39,381.70 L629.15,381.70 L629.91,381.70 L630.67,381.70 L631.43,381.70 L632.19,381.70 L632.95,381.70 L633.71,381.70 L634.47,381.70 L635.23,381.70 L635.99,381.70 L636.75,381.70 L637.51,381.70 L638.27,381.70 L639.03,381.70 L639.79,381.70 L640.55,381.70 L641.31,381.70 L642.07,381.70 L642.83,381.70 L643.59,381.70 L644.35,381.70 L645.12,381.70 L645.88,381.70 L646.64,381.70 L647.40,381.70 L648.16,381.70 L648.92,381.70 L649.68,381.70 L650.44,381.70 L651.20,381.70 L651.96,381.70 L652.72,381.70 L653.48,381.70 L654.24,381.70 L655.00,381.70 L655.76,381.70 L656.52,381.70 L657.28,381.70 L658.04,381.70 L658.80,381.70 L659.56,381.70 L660.32,381.70 L661.08,381.70 L661.84,381.70 L662.60,381.70 L663.36,381.70 L664.12,381.70 L664.88,381.70 L665.64,381.70 L666.40,381.70 L667.16,381.70 L667.92,381.70 L668.68,381.70 L669.44,381.70 L670.20,381.70 L670.96,381.70 L671.72,381.70 L672.48,381.70 L673.24,381.70 L674.00,381.70 L674.76,381.70 L675.53,381.70 L676.29,381.70 L677.05,381.70 L677.81,381.70 L678.57,381.70 L679.33,381.70 L680.09,381.70 L680.85,381.70 L681.61,381.70 L682.37,381.70 L683.13,381.70 L683.89,381.70 L684.65,381.70 L685.41,381.70 L686.17,381.70 L686.93,381.70 L687.69,381.70 L688.45,381.70 L689.21,381.70 L689.97,381.70 L690.73,381.70 L691.49,381.70 L692.25,381.70 L693.01,381.70 L693.77,381.70 L694.53,381.70 L695.29,381.70 L696.05,381.70 L696.81,381.70 L697.58,381.70 L698.34,381.70 L699.10,381.70 L699.86,381.70 L700.62,381.70 L701.38,381.70 L702.14,381.70 L702.90,381.70 L703.66,381.70 L704.42,381.70 L705.18,381.70 L705.94,381.70 L706.70,381.70 L707.46,381.70 L708.22,381.70 L708.98,381.70 L709.74,381.70 L710.50,381.70 L711.26,381.70 L712.02,381.70 L712.78,381.70 L713.54,381.70 L714.30,381.70 L715.07,381.70 L715.83,381.70 L716.59,381.70 L717.35,381.70 L718.11,381.70 L718.87,381.70 L719.63,381.70 L720.39,381.70 L721.15,381.70 L721.91,381.70 L722.67,381.70 L723.43,381.70 L724.19,381.70 L724.95,381.70 L725.71,381.70 L726.47,381.70 L727.23,381.70 L727.99,381.70 L728.75,381.70 L729.52,381.70 L730.28,381.70 L731.04,381.70 L731.80,381.70 L732.56,381.70 L733.32,381.70 L734.08,381.70 L734.84,381.70 L735.60,381.70 L736.36,381.70 L737.12,381.70 L737.88,381.70 L738.64,381.70 L739.40,381.70 L740.16,381.70 L740.92,381.70 L741.68,381.70 L742.45,381.70 L743.21,381.70 L743.97,381.70 L744.73,381.70 L745.49,381.70 L746.25,381.70 L747.01,381.70 L747.77,381.70 L748.53,381.70 L749.29,381.70 L750.05,381.70 L750.81,381.70 L751.57,381.70 L752.33,381.70 L753.09,381.70 L753.86,381.70 L754.62,381.70 L755.38,381.70 L756.14,381.70 L756.90,381.70 L757.66,381.70 L758.42,381.70 L759.18,381.70 L759.94,381.70 L760.70,381.70 L761.46,381.70 L762.22,381.70 L762.98,381.70 L763.74,381.70 L764.51,381.70 L765.27,381.70 L766.03,381.70 L766.79,381.70 L767.55,381.70 L768.31,381.70 L769.07,381.70 L769.83,381.70 L770.59,381.70 L771.35,381.70 L772.11,381.70 L772.87,381.70 L773.63,381.70 L774.40,381.70 L775.16,381.70 L775.92,381.70 L776.68,381.70 L777.44,381.70 L778.20,381.70 L778.96,381.70 L779.72,381.70 L780.48,381.70 L781.24,381.70 L782.00,381.70 L782.77,381.70 L783.53,381.70 L784.29,381.70 L785.05,381.70 L785.81,381.70 L786.57,381.70 L787.33,381.70 L788.09,381.70 L788.85,381.70 L789.61,381.70 L790.37,381.70 L791.14,381.70 L791.90,381.70 L792.66,381.70 L793.42,381.70 L794.18,381.70 L794.94,381.70 L795.70,381.70 L796.46,381.70 L797.22,381.70 L797.98,381.70 L798.74,381.70 L799.51,381.70 L800.27,381.70 L801.03,381.70 L801.79,381.70 L802.55,381.70 L803.31,381.70 L804.07,381.70 L804.83,381.70 L805.59,381.70 L806.36,381.70 L807.12,381.70 L807.88,381.70 L808.64,381.70 L809.40,381.70 L810.40,381.70"/>
<path class="c" stroke="#EB6235" stroke-dasharray="8.9 2.55 4.4 2.55" stroke-dashoffset="12.75" d="M132.50,381.70 L133.22,382.00 L133.93,382.32 L134.62,382.67 L135.31,383.05 L135.98,383.44 L136.63,383.86 L137.27,384.30 L137.91,384.76 L138.52,385.24 L139.13,385.74 L139.72,386.26 L140.30,386.79 L140.86,387.34 L141.42,387.91 L141.96,388.48 L142.48,389.08 L143.00,389.68 L143.50,390.30 L143.99,390.93 L144.46,391.57 L144.92,392.22 L145.37,392.87 L145.81,393.53 L146.23,394.20 L146.64,394.88 L147.04,395.56 L147.43,396.25 L147.81,396.93 L148.18,397.62 L148.54,398.32 L148.90,399.01 L149.25,399.71 L149.60,400.40 L149.95,401.09 L150.30,401.79 L150.65,402.48 L151.00,403.16 L151.35,403.84 L151.71,404.52 L152.07,405.19 L152.44,405.86 L152.82,406.52 L153.21,407.17 L153.61,407.82 L154.02,408.45 L154.44,409.08 L154.88,409.69 L155.33,410.30 L155.80,410.89 L156.28,411.47 L156.79,412.03 L157.32,412.58 L157.87,413.12 L158.44,413.64 L159.03,414.14 L159.65,414.63 L160.30,415.10 L160.96,415.55 L161.64,415.98 L162.35,416.39 L163.06,416.78 L163.80,417.15 L164.54,417.49 L165.30,417.81 L166.06,418.10 L166.84,418.37 L167.62,418.61 L168.40,418.82 L169.19,419.00 L169.98,419.16 L170.76,419.28 L171.55,419.37 L172.33,419.43 L173.10,419.46 L173.87,419.46 L174.64,419.42 L175.40,419.37 L176.16,419.28 L176.92,419.17 L177.67,419.04 L178.42,418.89 L179.16,418.71 L179.90,418.52 L180.64,418.31 L181.37,418.08 L182.10,417.84 L182.83,417.59 L183.56,417.32 L184.28,417.05 L185.01,416.77 L185.73,416.48 L186.44,416.18 L187.16,415.88 L187.88,415.58 L188.59,415.27 L189.30,414.96 L190.01,414.64 L190.72,414.33 L191.43,414.01 L192.13,413.69 L192.84,413.36 L193.54,413.03 L194.25,412.70 L194.95,412.37 L195.65,412.03 L196.35,411.70 L197.05,411.36 L197.75,411.02 L198.45,410.68 L199.15,410.33 L199.84,409.99 L200.54,409.64 L201.24,409.29 L201.94,408.94 L202.63,408.59 L203.33,408.24 L204.03,407.89 L204.73,407.54 L205.42,407.19 L206.12,406.83 L206.82,406.48 L207.52,406.13 L208.22,405.77 L208.92,405.42 L209.62,405.07 L210.32,404.72 L211.02,404.36 L211.72,404.01 L212.43,403.66 L213.13,403.31 L213.84,402.97 L214.55,402.62 L215.26,402.27 L215.97,401.93 L216.68,401.59 L217.39,401.25 L218.10,400.91 L218.82,400.58 L219.53,400.24 L220.25,399.92 L220.97,399.59 L221.69,399.27 L222.41,398.96 L223.13,398.65 L223.86,398.34 L224.58,398.04 L225.31,397.75 L226.03,397.46 L226.76,397.18 L227.49,396.90 L228.22,396.63 L228.95,396.37 L229.68,396.11 L230.41,395.85 L231.15,395.60 L231.88,395.36 L232.62,395.12 L233.36,394.89 L234.09,394.66 L234.83,394.44 L235.57,394.22 L236.31,394.00 L237.06,393.79 L237.80,393.58 L238.54,393.38 L239.29,393.18 L240.03,392.99 L240.78,392.79 L241.53,392.60 L242.28,392.42 L243.02,392.23 L243.77,392.05 L244.53,391.88 L245.28,391.70 L246.03,391.53 L246.78,391.36 L247.54,391.19 L248.29,391.03 L249.05,390.87 L249.80,390.71 L250.56,390.55 L251.32,390.40 L252.08,390.25 L252.84,390.10 L253.59,389.95 L254.36,389.81 L255.12,389.66 L255.88,389.52 L256.64,389.39 L257.40,389.25 L258.17,389.12 L258.93,388.99 L259.70,388.86 L260.46,388.73 L261.23,388.61 L261.99,388.49 L262.76,388.37 L263.53,388.25 L264.30,388.13 L265.07,388.02 L265.83,387.91 L266.60,387.80 L267.37,387.69 L268.15,387.59 L268.92,387.48 L269.69,387.38 L270.46,387.28 L271.23,387.18 L272.01,387.08 L272.78,386.99 L273.55,386.89 L274.33,386.80 L275.10,386.71 L275.87,386.62 L276.65,386.54 L277.42,386.45 L278.20,386.37 L278.98,386.29 L279.75,386.20 L280.53,386.12 L281.31,386.05 L282.08,385.97 L282.86,385.89 L283.64,385.82 L284.42,385.75 L285.19,385.68 L285.97,385.61 L286.75,385.54 L287.53,385.47 L288.31,385.40 L289.09,385.34 L289.86,385.27 L290.64,385.21 L291.42,385.15 L292.20,385.09 L292.98,385.03 L293.76,384.97 L294.54,384.91 L295.32,384.85 L296.10,384.80 L296.88,384.74 L297.66,384.69 L298.44,384.63 L299.22,384.58 L300.00,384.53 L300.78,384.48 L301.56,384.43 L302.34,384.38 L303.12,384.33 L303.90,384.28 L304.68,384.23 L305.46,384.18 L306.24,384.14 L307.02,384.09 L307.80,384.05 L308.57,384.00 L309.35,383.96 L310.13,383.92 L310.91,383.87 L311.69,383.83 L312.47,383.79 L313.25,383.75 L314.03,383.71 L314.81,383.67 L315.59,383.63 L316.37,383.60 L317.15,383.56 L317.93,383.52 L318.71,383.49 L319.49,383.45 L320.27,383.42 L321.05,383.38 L321.83,383.35 L322.61,383.32 L323.39,383.29 L324.17,383.25 L324.95,383.22 L325.72,383.19 L326.50,383.16 L327.28,383.13 L328.06,383.11 L328.84,383.08 L329.62,383.05 L330.40,383.02 L331.18,383.00 L331.96,382.97 L332.74,382.94 L333.52,382.92 L334.30,382.89 L335.08,382.87 L335.86,382.85 L336.64,382.82 L337.42,382.80 L338.20,382.78 L338.98,382.75 L339.75,382.73 L340.53,382.71 L341.31,382.69 L342.09,382.67 L342.87,382.65 L343.65,382.63 L344.43,382.61 L345.21,382.60 L345.99,382.58 L346.77,382.56 L347.55,382.54 L348.33,382.53 L349.11,382.51 L349.89,382.49 L350.66,382.48 L351.44,382.46 L352.22,382.44 L353.00,382.43 L353.78,382.41 L354.56,382.40 L355.34,382.38 L356.12,382.37 L356.90,382.36 L357.68,382.34 L358.46,382.33 L359.24,382.31 L360.02,382.30 L360.79,382.29 L361.57,382.28 L362.35,382.26 L363.13,382.25 L363.91,382.24 L364.69,382.23 L365.47,382.22 L366.25,382.20 L367.03,382.19 L367.81,382.18 L368.59,382.17 L369.37,382.16 L370.14,382.15 L370.92,382.14 L371.70,382.13 L372.48,382.12 L373.26,382.11 L374.04,382.10 L374.82,382.09 L375.60,382.08 L376.38,382.07 L377.16,382.07 L377.94,382.06 L378.71,382.05 L379.49,382.04 L380.27,382.03 L381.05,382.02 L381.83,382.02 L382.61,382.01 L383.39,382.00 L384.17,381.99 L384.95,381.99 L385.73,381.98 L386.51,381.97 L387.28,381.97 L388.06,381.96 L388.84,381.95 L389.62,381.95 L390.40,381.94 L391.18,381.93 L391.96,381.93 L392.74,381.92 L393.52,381.91 L394.30,381.91 L395.07,381.90 L395.85,381.90 L396.63,381.89 L397.41,381.88 L398.19,381.88 L398.97,381.87 L399.75,381.87 L400.53,381.86 L401.31,381.86 L402.08,381.85 L402.86,381.85 L403.64,381.84 L404.42,381.84 L405.20,381.83 L405.98,381.83 L406.76,381.82 L407.54,381.82 L408.32,381.82 L409.09,381.81 L409.87,381.81 L410.65,381.80 L411.43,381.80 L412.21,381.79 L412.99,381.79 L413.77,381.79 L414.55,381.78 L415.33,381.78 L416.10,381.78 L416.88,381.77 L417.66,381.77 L418.44,381.77 L419.22,381.76 L420.00,381.76 L420.78,381.76 L421.56,381.76 L422.34,381.75 L423.11,381.75 L423.89,381.75 L424.67,381.75 L425.45,381.74 L426.23,381.74 L427.01,381.74 L427.79,381.74 L428.57,381.73 L429.34,381.73 L430.12,381.73 L430.90,381.73 L431.68,381.73 L432.46,381.73 L433.24,381.72 L434.02,381.72 L434.80,381.72 L435.57,381.72 L436.35,381.72 L437.13,381.72 L437.91,381.71 L438.69,381.71 L439.47,381.71 L440.25,381.71 L441.03,381.71 L441.80,381.71 L442.58,381.71 L443.36,381.71 L444.14,381.71 L444.92,381.71 L445.70,381.71 L446.48,381.70 L447.26,381.70 L448.03,381.70 L448.81,381.70 L449.59,381.70 L450.37,381.70 L451.15,381.70 L451.93,381.70 L452.71,381.70 L453.48,381.70 L454.26,381.70 L455.04,381.70 L455.82,381.70 L456.60,381.70 L457.38,381.70 L458.16,381.70 L458.94,381.70 L459.71,381.70 L460.49,381.70 L461.27,381.70 L462.05,381.70 L462.83,381.70 L463.61,381.70 L464.39,381.70 L465.16,381.70 L465.94,381.70 L466.72,381.70 L467.50,381.70 L468.28,381.70 L469.06,381.70 L469.84,381.70 L470.61,381.70 L471.39,381.70 L472.17,381.70 L472.95,381.70 L473.73,381.70 L474.51,381.70 L475.29,381.70 L476.07,381.70 L476.84,381.70 L477.62,381.70 L478.40,381.70 L479.18,381.70 L479.96,381.70 L480.74,381.70 L481.52,381.70 L482.29,381.70 L483.07,381.70 L483.85,381.70 L484.63,381.70 L485.41,381.70 L486.19,381.70 L486.97,381.70 L487.74,381.70 L488.52,381.70 L489.30,381.70 L490.08,381.70 L490.86,381.70 L491.64,381.70 L492.42,381.70 L493.19,381.70 L493.97,381.70 L494.75,381.70 L495.53,381.70 L496.31,381.70 L497.09,381.70 L497.86,381.70 L498.64,381.70 L499.42,381.70 L500.20,381.70 L500.98,381.70 L501.76,381.70 L502.54,381.70 L503.31,381.70 L504.09,381.70 L504.87,381.70 L505.65,381.70 L506.43,381.70 L507.21,381.70 L507.99,381.70 L508.76,381.70 L509.54,381.70 L510.32,381.70 L511.10,381.70 L511.88,381.70 L512.66,381.70 L513.44,381.70 L514.21,381.70 L514.99,381.70 L515.77,381.70 L516.55,381.70 L517.33,381.70 L518.11,381.70 L518.89,381.70 L519.66,381.70 L520.44,381.70 L521.22,381.70 L522.00,381.70 L522.78,381.70 L523.56,381.70 L524.33,381.70 L525.11,381.70 L525.89,381.70 L526.67,381.70 L527.45,381.70 L528.23,381.70 L529.01,381.70 L529.78,381.70 L530.56,381.70 L531.34,381.70 L532.12,381.70 L532.90,381.70 L533.68,381.70 L534.46,381.70 L535.23,381.70 L536.01,381.70 L536.79,381.70 L537.57,381.70 L538.35,381.70 L539.13,381.70 L539.90,381.70 L540.68,381.70 L541.46,381.70 L542.24,381.70 L543.02,381.70 L543.80,381.70 L544.58,381.70 L545.35,381.70 L546.13,381.70 L546.91,381.70 L547.69,381.70 L548.47,381.70 L549.25,381.70 L550.02,381.70 L550.80,381.70 L551.58,381.70 L552.36,381.70 L553.14,381.70 L553.92,381.70 L554.70,381.70 L555.47,381.70 L556.25,381.70 L557.03,381.70 L557.81,381.70 L558.59,381.70 L559.37,381.70 L560.15,381.70 L560.92,381.70 L561.70,381.70 L562.48,381.70 L563.26,381.70 L564.04,381.70 L564.82,381.70 L565.59,381.70 L566.37,381.70 L567.15,381.70 L567.93,381.70 L568.71,381.70 L569.49,381.70 L570.27,381.70 L571.04,381.70 L571.82,381.70 L572.60,381.70 L573.38,381.70 L574.16,381.70 L574.94,381.70 L575.72,381.70 L576.49,381.70 L577.27,381.70 L578.05,381.70 L578.83,381.70 L579.61,381.70 L580.39,381.70 L581.16,381.70 L581.94,381.70 L582.72,381.70 L583.50,381.70 L584.28,381.70 L585.06,381.70 L585.84,381.70 L586.61,381.70 L587.39,381.70 L588.17,381.70 L588.95,381.70 L589.73,381.70 L590.51,381.70 L591.29,381.70 L592.06,381.70 L592.84,381.70 L593.62,381.70 L594.40,381.70 L595.18,381.70 L595.96,381.70 L596.73,381.70 L597.51,381.70 L598.29,381.70 L599.07,381.70 L599.85,381.70 L600.63,381.70 L601.41,381.70 L602.18,381.70 L602.96,381.70 L603.74,381.70 L604.52,381.70 L605.30,381.70 L606.08,381.70 L606.86,381.70 L607.63,381.70 L608.41,381.70 L609.19,381.70 L609.97,381.70 L610.75,381.70 L611.53,381.70 L612.31,381.70 L613.08,381.70 L613.86,381.70 L614.64,381.70 L615.42,381.70 L616.20,381.70 L616.98,381.70 L617.76,381.70 L618.53,381.70 L619.31,381.70 L620.09,381.70 L620.87,381.70 L621.65,381.70 L622.43,381.70 L623.21,381.70 L623.98,381.70 L624.76,381.70 L625.54,381.70 L626.32,381.70 L627.10,381.70 L627.88,381.70 L628.66,381.70 L629.43,381.70 L630.21,381.70 L630.99,381.70 L631.77,381.70 L632.55,381.70 L633.33,381.70 L634.11,381.70 L634.88,381.70 L635.66,381.70 L636.44,381.70 L637.22,381.70 L638.00,381.70 L638.78,381.70 L639.56,381.70 L640.33,381.70 L641.11,381.70 L641.89,381.70 L642.67,381.70 L643.45,381.70 L644.23,381.70 L645.01,381.70 L645.79,381.70 L646.56,381.70 L647.34,381.70 L648.12,381.70 L648.90,381.70 L649.68,381.70 L650.46,381.70 L651.24,381.70 L652.01,381.70 L652.79,381.70 L653.57,381.70 L654.35,381.70 L655.13,381.70 L655.91,381.70 L656.69,381.70 L657.47,381.70 L658.24,381.70 L659.02,381.70 L659.80,381.70 L660.58,381.70 L661.36,381.70 L662.14,381.70 L662.92,381.70 L663.70,381.70 L664.47,381.70 L665.25,381.70 L666.03,381.70 L666.81,381.70 L667.59,381.70 L668.37,381.70 L669.15,381.70 L669.93,381.70 L670.70,381.70 L671.48,381.70 L672.26,381.70 L673.04,381.70 L673.82,381.70 L674.60,381.70 L675.38,381.70 L676.16,381.70 L676.93,381.70 L677.71,381.70 L678.49,381.70 L679.27,381.70 L680.05,381.70 L680.83,381.70 L681.61,381.70 L682.39,381.70 L683.16,381.70 L683.94,381.70 L684.72,381.70 L685.50,381.70 L686.28,381.70 L687.06,381.70 L687.84,381.70 L688.62,381.70 L689.40,381.70 L690.17,381.70 L690.95,381.70 L691.73,381.70 L692.51,381.70 L693.29,381.70 L694.07,381.70 L694.85,381.70 L695.63,381.70 L696.41,381.70 L697.18,381.70 L697.96,381.70 L698.74,381.70 L699.52,381.70 L700.30,381.70 L701.08,381.70 L701.86,381.70 L702.64,381.70 L703.42,381.70 L704.19,381.70 L704.97,381.70 L705.75,381.70 L706.53,381.70 L707.31,381.70 L708.09,381.70 L708.87,381.70 L709.65,381.70 L710.43,381.70 L711.20,381.70 L711.98,381.70 L712.76,381.70 L713.54,381.70 L714.32,381.70 L715.10,381.70 L715.88,381.70 L716.66,381.70 L717.44,381.70 L718.22,381.70 L718.99,381.70 L719.77,381.70 L720.55,381.70 L721.33,381.70 L722.11,381.70 L722.89,381.70 L723.67,381.70 L724.45,381.70 L725.23,381.70 L726.01,381.70 L726.79,381.70 L727.56,381.70 L728.34,381.70 L729.12,381.70 L729.90,381.70 L730.68,381.70 L731.46,381.70 L732.24,381.70 L733.02,381.70 L733.80,381.70 L734.58,381.70 L735.36,381.70 L736.13,381.70 L736.91,381.70 L737.69,381.70 L738.47,381.70 L739.25,381.70 L740.03,381.70 L740.81,381.70 L741.59,381.70 L742.37,381.70 L743.15,381.70 L743.93,381.70 L744.71,381.70 L745.48,381.70 L746.26,381.70 L747.04,381.70 L747.82,381.70 L748.60,381.70 L749.38,381.70 L750.16,381.70 L750.94,381.70 L751.72,381.70 L752.50,381.70 L753.28,381.70 L754.06,381.70 L754.84,381.70 L755.61,381.70 L756.39,381.70 L757.17,381.70 L757.95,381.70 L758.73,381.70 L759.51,381.70 L760.29,381.70 L761.07,381.70 L761.85,381.70 L762.63,381.70 L763.41,381.70 L764.19,381.70 L764.97,381.70 L765.75,381.70 L766.53,381.70 L767.30,381.70 L768.08,381.70 L768.86,381.70 L769.64,381.70 L770.42,381.70 L771.20,381.70 L771.98,381.70 L772.76,381.70 L773.54,381.70 L774.32,381.70 L775.10,381.70 L775.88,381.70 L776.66,381.70 L777.44,381.70 L778.22,381.70 L779.00,381.70 L779.78,381.70 L780.56,381.70 L781.33,381.70 L782.11,381.70 L782.89,381.70 L783.67,381.70 L784.45,381.70 L785.23,381.70 L786.01,381.70 L786.79,381.70 L787.57,381.70 L788.35,381.70 L789.13,381.70 L789.91,381.70 L790.69,381.70 L791.47,381.70 L792.25,381.70 L793.03,381.70 L793.81,381.70 L794.59,381.70 L795.37,381.70 L796.15,381.70 L796.93,381.70 L797.71,381.70 L798.49,381.70 L799.27,381.70 L800.04,381.70 L800.82,381.70 L801.60,381.70 L802.38,381.70 L803.16,381.70 L803.94,381.70 L804.72,381.70 L805.50,381.70 L806.28,381.70 L807.06,381.70 L807.84,381.70 L808.62,381.70 L809.40,381.70 L810.40,381.70"/>
<path class="c" stroke="#FF0000" stroke-width="3.2" stroke-linecap="square" d="M132.50,381.70 L133.01,380.67 L133.46,379.57 L133.85,378.43 L134.20,377.25 L134.51,376.04 L134.80,374.81 L135.07,373.58 L135.33,372.35 L135.59,371.12 L135.83,369.88 L136.06,368.65 L136.29,367.41 L136.51,366.18 L136.71,364.94 L136.92,363.70 L137.11,362.46 L137.30,361.22 L137.48,359.99 L137.65,358.75 L137.82,357.51 L137.99,356.27 L138.15,355.03 L138.30,353.79 L138.45,352.55 L138.60,351.31 L138.75,350.08 L138.89,348.84 L139.03,347.60 L139.17,346.37 L139.30,345.13 L139.44,343.90 L139.56,342.66 L139.69,341.43 L139.82,340.19 L139.94,338.96 L140.06,337.72 L140.17,336.49 L140.29,335.26 L140.40,334.03 L140.51,332.79 L140.62,331.56 L140.73,330.33 L140.84,329.10 L140.94,327.86 L141.05,326.63 L141.15,325.40 L141.25,324.17 L141.35,322.94 L141.45,321.71 L141.54,320.48 L141.64,319.25 L141.73,318.01 L141.83,316.78 L141.92,315.55 L142.01,314.32 L142.11,313.09 L142.20,311.86 L142.29,310.63 L142.38,309.40 L142.47,308.17 L142.56,306.93 L142.65,305.70 L142.74,304.47 L142.83,303.24 L142.92,302.01 L143.01,300.77 L143.11,299.54 L143.20,298.31 L143.29,297.07 L143.38,295.84 L143.48,294.61 L143.57,293.37 L143.66,292.14 L143.76,290.91 L143.85,289.67 L143.95,288.44 L144.04,287.20 L144.14,285.97 L144.23,284.73 L144.33,283.49 L144.42,282.26 L144.52,281.02 L144.62,279.79 L144.71,278.55 L144.81,277.31 L144.91,276.08 L145.01,274.84 L145.11,273.60 L145.21,272.37 L145.31,271.13 L145.41,269.89 L145.51,268.65 L145.61,267.42 L145.71,266.18 L145.81,264.94 L145.91,263.70 L146.01,262.46 L146.11,261.22 L146.21,259.99 L146.31,258.75 L146.42,257.51 L146.52,256.27 L146.62,255.03 L146.73,253.79 L146.83,252.55 L146.93,251.31 L147.04,250.07 L147.14,248.83 L147.24,247.59 L147.35,246.35 L147.45,245.11 L147.56,243.87 L147.66,242.63 L147.77,241.39 L147.88,240.15 L147.98,238.91 L148.09,237.67 L148.19,236.43 L148.30,235.19 L148.41,233.95 L148.51,232.71 L148.62,231.47 L148.73,230.23 L148.84,228.99 L148.94,227.75 L149.05,226.50 L149.16,225.26 L149.27,224.02 L149.37,222.78 L149.48,221.54 L149.59,220.30 L149.70,219.06 L149.81,217.82 L149.92,216.58 L150.03,215.34 L150.14,214.09 L150.25,212.85 L150.35,211.61 L150.46,210.37 L150.57,209.13 L150.68,207.89 L150.79,206.65 L150.90,205.41 L151.01,204.17 L151.12,202.93 L151.23,201.69 L151.34,200.44 L151.45,199.20 L151.57,197.96 L151.68,196.72 L151.79,195.48 L151.90,194.24 L152.01,193.00 L152.12,191.76 L152.23,190.52 L152.34,189.28 L152.45,188.04 L152.56,186.80 L152.67,185.56 L152.79,184.32 L152.90,183.08 L153.01,181.84 L153.12,180.60 L153.23,179.36 L153.34,178.12 L153.45,176.88 L153.57,175.64 L153.68,174.40 L153.79,173.17 L153.90,171.93 L154.01,170.69 L154.12,169.45 L154.23,168.21 L154.34,166.97 L154.46,165.73 L154.57,164.50 L154.68,163.26 L154.79,162.02 L154.90,160.78 L155.01,159.55 L155.12,158.31 L155.23,157.07 L155.35,155.84 L155.46,154.60 L155.57,153.36 L155.68,152.13 L155.79,150.89 L155.91,149.65 L156.02,148.42 L156.13,147.18 L156.25,145.95 L156.36,144.71 L156.48,143.48 L156.59,142.24 L156.71,141.01 L156.83,139.77 L156.94,138.54 L157.06,137.31 L157.18,136.07 L157.31,134.84 L157.43,133.60 L157.55,132.37 L157.68,131.14 L157.80,129.91 L157.93,128.67 L158.06,127.44 L158.19,126.21 L158.32,124.98 L158.45,123.75 L158.59,122.52 L158.73,121.29 L158.86,120.06 L159.00,118.83 L159.15,117.60 L159.29,116.37 L159.44,115.14 L159.58,113.91 L159.73,112.68 L159.89,111.45 L160.04,110.22 L160.20,109.00 L160.36,107.77 L160.52,106.54 L160.68,105.31 L160.85,104.09 L161.02,102.86 L161.19,101.64 L161.36,100.41 L161.54,99.19 L161.72,97.96 L161.90,96.74 L162.09,95.51 L162.28,94.29 L162.47,93.07 L162.66,91.84 L162.86,90.62 L163.06,89.40 L163.26,88.18 L163.47,86.95 L163.68,85.73 L163.89,84.51 L164.11,83.29 L164.33,82.07 L164.56,80.85 L164.78,79.63 L165.02,78.41 L165.25,77.19 L165.49,75.98 L165.73,74.76 L165.98,73.54 L166.23,72.33 L166.49,71.11 L166.75,69.89 L167.01,68.68 L167.28,67.46 L167.55,66.25 L167.83,65.04 L168.11,63.83 L168.39,62.61 L168.68,61.40 L168.98,60.19 L169.28,58.98 L169.58,57.78 L169.89,56.57 L170.21,55.37 L170.53,54.16 L170.87,52.97 L171.21,51.78 L171.57,50.60 L171.95,49.43 L172.34,48.27 L172.75,47.13 L173.19,46.00 L173.68,44.87 L174.22,43.75 L174.84,42.63 L175.54,41.50 L176.34,40.37 L177.23,39.32 L178.19,38.46 L179.20,37.89 L180.23,37.72 L181.28,37.98 L182.33,38.59 L183.35,39.44 L184.33,40.45 L185.24,41.51 L186.08,42.55 L186.86,43.58 L187.58,44.59 L188.26,45.60 L188.90,46.61 L189.52,47.64 L190.12,48.69 L190.72,49.75 L191.30,50.84 L191.88,51.94 L192.44,53.05 L193.00,54.18 L193.55,55.31 L194.09,56.44 L194.63,57.58 L195.15,58.72 L195.67,59.86 L196.18,61.00 L196.69,62.15 L197.18,63.29 L197.68,64.43 L198.16,65.57 L198.64,66.72 L199.12,67.86 L199.59,69.01 L200.06,70.15 L200.52,71.30 L200.98,72.44 L201.43,73.59 L201.89,74.73 L202.34,75.88 L202.78,77.03 L203.23,78.17 L203.67,79.32 L204.11,80.47 L204.55,81.62 L204.99,82.76 L205.43,83.91 L205.87,85.06 L206.31,86.21 L206.75,87.36 L207.19,88.51 L207.63,89.66 L208.08,90.80 L208.52,91.95 L208.97,93.10 L209.42,94.25 L209.87,95.40 L210.33,96.55 L210.79,97.70 L211.25,98.85 L211.71,100.00 L212.18,101.14 L212.65,102.29 L213.12,103.44 L213.59,104.59 L214.07,105.74 L214.55,106.89 L215.03,108.03 L215.51,109.18 L216.00,110.33 L216.49,111.47 L216.98,112.62 L217.47,113.77 L217.97,114.91 L218.46,116.06 L218.96,117.20 L219.47,118.35 L219.97,119.49 L220.48,120.64 L220.98,121.78 L221.50,122.92 L222.01,124.07 L222.52,125.21 L223.04,126.35 L223.56,127.49 L224.07,128.63 L224.60,129.77 L225.12,130.91 L225.64,132.05 L226.17,133.19 L226.69,134.33 L227.22,135.46 L227.75,136.60 L228.28,137.74 L228.81,138.87 L229.34,140.00 L229.88,141.14 L230.41,142.27 L230.95,143.40 L231.48,144.53 L232.02,145.66 L232.56,146.79 L233.09,147.92 L233.63,149.05 L234.17,150.17 L234.71,151.30 L235.25,152.42 L235.78,153.55 L236.32,154.67 L236.86,155.79 L237.40,156.91 L237.94,158.03 L238.48,159.15 L239.02,160.27 L239.56,161.38 L240.10,162.50 L240.63,163.61 L241.17,164.72 L241.71,165.84 L242.24,166.95 L242.78,168.06 L243.32,169.16 L243.85,170.27 L244.39,171.38 L244.93,172.48 L245.47,173.58 L246.01,174.68 L246.55,175.78 L247.10,176.87 L247.65,177.97 L248.21,179.06 L248.76,180.15 L249.33,181.24 L249.89,182.32 L250.47,183.40 L251.04,184.48 L251.63,185.56 L252.22,186.64 L252.81,187.71 L253.42,188.78 L254.03,189.84 L254.64,190.90 L255.27,191.96 L255.91,193.02 L256.55,194.07 L257.21,195.12 L257.87,196.17 L258.54,197.21 L259.23,198.25 L259.92,199.29 L260.63,200.32 L261.35,201.35 L262.08,202.37 L262.82,203.39 L263.56,204.40 L264.32,205.41 L265.09,206.42 L265.86,207.42 L266.64,208.42 L267.42,209.41 L268.21,210.40 L269.00,211.38 L269.79,212.36 L270.59,213.34 L271.39,214.31 L272.20,215.27 L273.01,216.23 L273.83,217.19 L274.65,218.14 L275.47,219.08 L276.30,220.02 L277.13,220.96 L277.96,221.89 L278.80,222.81 L279.65,223.74 L280.49,224.65 L281.34,225.56 L282.20,226.47 L283.06,227.37 L283.92,228.27 L284.79,229.16 L285.66,230.05 L286.53,230.93 L287.41,231.81 L288.30,232.68 L289.18,233.55 L290.07,234.41 L290.97,235.27 L291.86,236.12 L292.77,236.97 L293.67,237.81 L294.58,238.65 L295.50,239.48 L296.42,240.31 L297.34,241.13 L298.26,241.95 L299.19,242.76 L300.13,243.57 L301.06,244.37 L302.00,245.17 L302.95,245.96 L303.90,246.75 L304.85,247.53 L305.81,248.31 L306.77,249.08 L307.73,249.85 L308.70,250.61 L309.67,251.37 L310.65,252.12 L311.63,252.87 L312.61,253.61 L313.60,254.34 L314.59,255.08 L315.59,255.80 L316.59,256.52 L317.59,257.24 L318.60,257.95 L319.61,258.65 L320.62,259.36 L321.64,260.05 L322.66,260.74 L323.69,261.43 L324.72,262.11 L325.75,262.78 L326.79,263.45 L327.83,264.11 L328.88,264.77 L329.93,265.42 L330.98,266.07 L332.04,266.72 L333.10,267.35 L334.16,267.99 L335.23,268.61 L336.30,269.23 L337.37,269.85 L338.45,270.46 L339.53,271.07 L340.62,271.67 L341.71,272.26 L342.80,272.85 L343.90,273.43 L345.00,274.01 L346.10,274.58 L347.21,275.15 L348.32,275.71 L349.43,276.26 L350.54,276.81 L351.66,277.35 L352.79,277.88 L353.91,278.41 L355.04,278.94 L356.17,279.45 L357.30,279.97 L358.44,280.47 L359.58,280.97 L360.72,281.46 L361.86,281.95 L363.01,282.42 L364.16,282.90 L365.31,283.36 L366.47,283.82 L367.62,284.28 L368.78,284.72 L369.94,285.16 L371.11,285.59 L372.27,286.02 L373.44,286.44 L374.61,286.85 L375.78,287.26 L376.96,287.66 L378.14,288.05 L379.31,288.44 L380.50,288.83 L381.68,289.20 L382.86,289.58 L384.05,289.94 L385.24,290.30 L386.43,290.66 L387.62,291.01 L388.81,291.36 L390.00,291.70 L391.20,292.03 L392.40,292.36 L393.60,292.69 L394.80,293.01 L396.00,293.33 L397.20,293.64 L398.41,293.95 L399.61,294.26 L400.82,294.56 L402.02,294.86 L403.23,295.15 L404.44,295.44 L405.65,295.73 L406.86,296.01 L408.08,296.29 L409.29,296.57 L410.50,296.84 L411.72,297.11 L412.93,297.38 L414.15,297.65 L415.37,297.91 L416.58,298.17 L417.80,298.43 L419.02,298.68 L420.24,298.93 L421.46,299.19 L422.68,299.43 L423.90,299.68 L425.12,299.93 L426.34,300.17 L427.56,300.41 L428.78,300.65 L430.00,300.89 L431.22,301.13 L432.44,301.36 L433.66,301.60 L434.88,301.83 L436.10,302.06 L437.32,302.29 L438.55,302.52 L439.77,302.74 L440.99,302.97 L442.21,303.19 L443.44,303.41 L444.66,303.63 L445.88,303.85 L447.10,304.06 L448.33,304.28 L449.55,304.49 L450.78,304.70 L452.00,304.91 L453.22,305.12 L454.45,305.33 L455.67,305.53 L456.90,305.73 L458.12,305.94 L459.35,306.14 L460.57,306.34 L461.80,306.53 L463.02,306.73 L464.25,306.93 L465.47,307.12 L466.70,307.31 L467.93,307.50 L469.15,307.69 L470.38,307.88 L471.61,308.07 L472.83,308.25 L474.06,308.43 L475.29,308.62 L476.51,308.80 L477.74,308.98 L478.97,309.16 L480.20,309.33 L481.42,309.51 L482.65,309.68 L483.88,309.85 L485.11,310.03 L486.34,310.20 L487.57,310.36 L488.80,310.53 L490.02,310.70 L491.25,310.86 L492.48,311.03 L493.71,311.19 L494.94,311.35 L496.17,311.51 L497.40,311.67 L498.63,311.83 L499.86,311.98 L501.09,312.14 L502.32,312.29 L503.55,312.44 L504.78,312.59 L506.02,312.75 L507.25,312.89 L508.48,313.04 L509.71,313.19 L510.94,313.33 L512.17,313.48 L513.40,313.62 L514.64,313.76 L515.87,313.90 L517.10,314.04 L518.33,314.18 L519.56,314.32 L520.80,314.46 L522.03,314.59 L523.26,314.73 L524.49,314.86 L525.73,314.99 L526.96,315.12 L528.19,315.25 L529.43,315.38 L530.66,315.51 L531.89,315.64 L533.13,315.76 L534.36,315.89 L535.60,316.01 L536.83,316.13 L538.06,316.26 L539.30,316.38 L540.53,316.50 L541.77,316.62 L543.00,316.73 L544.24,316.85 L545.47,316.97 L546.71,317.08 L547.94,317.20 L549.18,317.31 L550.41,317.42 L551.65,317.53 L552.88,317.64 L554.12,317.75 L555.35,317.86 L556.59,317.97 L557.82,318.08 L559.06,318.18 L560.30,318.29 L561.53,318.39 L562.77,318.50 L564.01,318.60 L565.24,318.70 L566.48,318.80 L567.71,318.90 L568.95,319.00 L570.19,319.10 L571.42,319.20 L572.66,319.30 L573.90,319.39 L575.14,319.49 L576.37,319.58 L577.61,319.68 L578.85,319.77 L580.09,319.86 L581.32,319.96 L582.56,320.05 L583.80,320.14 L585.04,320.23 L586.27,320.32 L587.51,320.41 L588.75,320.49 L589.99,320.58 L591.23,320.67 L592.46,320.75 L593.70,320.84 L594.94,320.92 L596.18,321.01 L597.42,321.09 L598.66,321.17 L599.89,321.26 L601.13,321.34 L602.37,321.42 L603.61,321.50 L604.85,321.58 L606.09,321.66 L607.33,321.74 L608.57,321.82 L609.81,321.89 L611.04,321.97 L612.28,322.05 L613.52,322.12 L614.76,322.20 L616.00,322.27 L617.24,322.35 L618.48,322.42 L619.72,322.50 L620.96,322.57 L622.20,322.64 L623.44,322.71 L624.68,322.79 L625.92,322.86 L627.16,322.93 L628.40,323.00 L629.64,323.07 L630.88,323.14 L632.12,323.21 L633.36,323.28 L634.60,323.35 L635.84,323.41 L637.08,323.48 L638.32,323.55 L639.56,323.62 L640.80,323.68 L642.04,323.75 L643.28,323.81 L644.52,323.88 L645.76,323.95 L647.00,324.01 L648.24,324.08 L649.48,324.14 L650.72,324.20 L651.96,324.27 L653.20,324.33 L654.44,324.39 L655.68,324.46 L656.92,324.52 L658.17,324.58 L659.41,324.65 L660.65,324.71 L661.89,324.77 L663.13,324.83 L664.37,324.89 L665.61,324.95 L666.85,325.01 L668.09,325.08 L669.33,325.14 L670.57,325.20 L671.81,325.26 L673.05,325.32 L674.30,325.38 L675.54,325.44 L676.78,325.50 L678.02,325.56 L679.26,325.62 L680.50,325.68 L681.74,325.74 L682.98,325.80 L684.22,325.86 L685.46,325.91 L686.70,325.97 L687.94,326.03 L689.19,326.09 L690.43,326.15 L691.67,326.21 L692.91,326.27 L694.15,326.33 L695.39,326.39 L696.63,326.45 L697.87,326.51 L699.11,326.56 L700.35,326.62 L701.59,326.68 L702.83,326.74 L704.07,326.80 L705.32,326.86 L706.56,326.92 L707.80,326.98 L709.04,327.04 L710.28,327.10 L711.52,327.16 L712.76,327.22 L714.00,327.28 L715.24,327.34 L716.48,327.40 L717.72,327.46 L718.96,327.52 L720.20,327.58 L721.44,327.64 L722.68,327.70 L723.92,327.76 L725.16,327.82 L726.40,327.88 L727.64,327.94 L728.89,328.00 L730.13,328.07 L731.37,328.13 L732.61,328.19 L733.85,328.25 L735.09,328.32 L736.33,328.38 L737.57,328.44 L738.81,328.51 L740.05,328.57 L741.29,328.63 L742.53,328.70 L743.77,328.76 L745.00,328.83 L746.24,328.89 L747.48,328.96 L748.72,329.03 L749.96,329.09 L751.20,329.16 L752.44,329.23 L753.68,329.29 L754.92,329.36 L756.16,329.43 L757.40,329.50 L758.64,329.57 L759.88,329.63 L761.12,329.70 L762.36,329.77 L763.59,329.85 L764.83,329.92 L766.07,329.99 L767.31,330.06 L768.55,330.13 L769.79,330.20 L771.03,330.28 L772.27,330.35 L773.50,330.42 L774.74,330.50 L775.98,330.57 L777.22,330.65 L778.46,330.73 L779.70,330.80 L780.93,330.88 L782.17,330.96 L783.41,331.04 L784.65,331.11 L785.88,331.19 L787.12,331.27 L788.36,331.35 L789.60,331.43 L790.83,331.52 L792.07,331.60 L793.31,331.68 L794.55,331.76 L795.78,331.85 L797.02,331.93 L798.26,332.02 L799.49,332.10 L800.73,332.19 L801.97,332.28 L803.20,332.37 L804.44,332.46 L805.68,332.54 L806.91,332.63 L808.15,332.73 L809.39,332.82 L809.40,332.82"/>
</g>
<g id="ticks">
<line class="tk" x1="132.50" x2="132.50" y1="441.6" y2="435.00"/>
<line class="tg" x1="132.50" x2="132.50" y1="5.95" y2="12.55"/>
<line class="tk" x1="166.34" x2="166.34" y1="441.6" y2="437.50"/>
<line class="tg" x1="166.34" x2="166.34" y1="5.95" y2="10.05"/>
<line class="tk" x1="200.19" x2="200.19" y1="441.6" y2="437.50"/>
<line class="tg" x1="200.19" x2="200.19" y1="5.95" y2="10.05"/>
<line class="tk" x1="234.03" x2="234.03" y1="441.6" y2="437.50"/>
<line class="tg" x1="234.03" x2="234.03" y1="5.95" y2="10.05"/>
<line class="tk" x1="267.88" x2="267.88" y1="441.6" y2="435.00"/>
<line class="tg" x1="267.88" x2="267.88" y1="5.95" y2="12.55"/>
<line class="tk" x1="301.73" x2="301.73" y1="441.6" y2="437.50"/>
<line class="tg" x1="301.73" x2="301.73" y1="5.95" y2="10.05"/>
<line class="tk" x1="335.57" x2="335.57" y1="441.6" y2="437.50"/>
<line class="tg" x1="335.57" x2="335.57" y1="5.95" y2="10.05"/>
<line class="tk" x1="369.41" x2="369.41" y1="441.6" y2="437.50"/>
<line class="tg" x1="369.41" x2="369.41" y1="5.95" y2="10.05"/>
<line class="tk" x1="403.26" x2="403.26" y1="441.6" y2="435.00"/>
<line class="tg" x1="403.26" x2="403.26" y1="5.95" y2="12.55"/>
<line class="tk" x1="437.11" x2="437.11" y1="441.6" y2="437.50"/>
<line class="tg" x1="437.11" x2="437.11" y1="5.95" y2="10.05"/>
<line class="tk" x1="470.95" x2="470.95" y1="441.6" y2="437.50"/>
<line class="tg" x1="470.95" x2="470.95" y1="5.95" y2="10.05"/>
<line class="tk" x1="504.79" x2="504.79" y1="441.6" y2="437.50"/>
<line class="tg" x1="504.79" x2="504.79" y1="5.95" y2="10.05"/>
<line class="tk" x1="538.64" x2="538.64" y1="441.6" y2="435.00"/>
<line class="tg" x1="538.64" x2="538.64" y1="5.95" y2="12.55"/>
<line class="tk" x1="572.49" x2="572.49" y1="441.6" y2="437.50"/>
<line class="tg" x1="572.49" x2="572.49" y1="5.95" y2="10.05"/>
<line class="tk" x1="606.33" x2="606.33" y1="441.6" y2="437.50"/>
<line class="tg" x1="606.33" x2="606.33" y1="5.95" y2="10.05"/>
<line class="tk" x1="640.17" x2="640.17" y1="441.6" y2="437.50"/>
<line class="tg" x1="640.17" x2="640.17" y1="5.95" y2="10.05"/>
<line class="tk" x1="674.02" x2="674.02" y1="441.6" y2="435.00"/>
<line class="tg" x1="674.02" x2="674.02" y1="5.95" y2="12.55"/>
<line class="tk" x1="707.87" x2="707.87" y1="441.6" y2="437.50"/>
<line class="tg" x1="707.87" x2="707.87" y1="5.95" y2="10.05"/>
<line class="tk" x1="741.71" x2="741.71" y1="441.6" y2="437.50"/>
<line class="tg" x1="741.71" x2="741.71" y1="5.95" y2="10.05"/>
<line class="tk" x1="775.55" x2="775.55" y1="441.6" y2="437.50"/>
<line class="tg" x1="775.55" x2="775.55" y1="5.95" y2="10.05"/>
<line class="tk" x1="809.40" x2="809.40" y1="441.6" y2="435.00"/>
<line class="tg" x1="809.40" x2="809.40" y1="5.95" y2="12.55"/>
<line class="tk" x1="118.5" x2="122.60" y1="432.62" y2="432.62"/>
<line class="tg" x1="823.4" x2="819.30" y1="432.62" y2="432.62"/>
<line class="tk" x1="118.5" x2="122.60" y1="419.89" y2="419.89"/>
<line class="tg" x1="823.4" x2="819.30" y1="419.89" y2="419.89"/>
<line class="tk" x1="118.5" x2="122.60" y1="407.16" y2="407.16"/>
<line class="tg" x1="823.4" x2="819.30" y1="407.16" y2="407.16"/>
<line class="tk" x1="118.5" x2="122.60" y1="394.43" y2="394.43"/>
<line class="tg" x1="823.4" x2="819.30" y1="394.43" y2="394.43"/>
<line class="tk" x1="118.5" x2="125.10" y1="381.70" y2="381.70"/>
<line class="tg" x1="823.4" x2="816.80" y1="381.70" y2="381.70"/>
<line class="tk" x1="118.5" x2="122.60" y1="368.97" y2="368.97"/>
<line class="tg" x1="823.4" x2="819.30" y1="368.97" y2="368.97"/>
<line class="tk" x1="118.5" x2="122.60" y1="356.24" y2="356.24"/>
<line class="tg" x1="823.4" x2="819.30" y1="356.24" y2="356.24"/>
<line class="tk" x1="118.5" x2="122.60" y1="343.51" y2="343.51"/>
<line class="tg" x1="823.4" x2="819.30" y1="343.51" y2="343.51"/>
<line class="tk" x1="118.5" x2="122.60" y1="330.78" y2="330.78"/>
<line class="tg" x1="823.4" x2="819.30" y1="330.78" y2="330.78"/>
<line class="tk" x1="118.5" x2="125.10" y1="318.05" y2="318.05"/>
<line class="tg" x1="823.4" x2="816.80" y1="318.05" y2="318.05"/>
<line class="tk" x1="118.5" x2="122.60" y1="305.32" y2="305.32"/>
<line class="tg" x1="823.4" x2="819.30" y1="305.32" y2="305.32"/>
<line class="tk" x1="118.5" x2="122.60" y1="292.59" y2="292.59"/>
<line class="tg" x1="823.4" x2="819.30" y1="292.59" y2="292.59"/>
<line class="tk" x1="118.5" x2="122.60" y1="279.86" y2="279.86"/>
<line class="tg" x1="823.4" x2="819.30" y1="279.86" y2="279.86"/>
<line class="tk" x1="118.5" x2="122.60" y1="267.13" y2="267.13"/>
<line class="tg" x1="823.4" x2="819.30" y1="267.13" y2="267.13"/>
<line class="tk" x1="118.5" x2="125.10" y1="254.40" y2="254.40"/>
<line class="tg" x1="823.4" x2="816.80" y1="254.40" y2="254.40"/>
<line class="tk" x1="118.5" x2="122.60" y1="241.67" y2="241.67"/>
<line class="tg" x1="823.4" x2="819.30" y1="241.67" y2="241.67"/>
<line class="tk" x1="118.5" x2="122.60" y1="228.94" y2="228.94"/>
<line class="tg" x1="823.4" x2="819.30" y1="228.94" y2="228.94"/>
<line class="tk" x1="118.5" x2="122.60" y1="216.21" y2="216.21"/>
<line class="tg" x1="823.4" x2="819.30" y1="216.21" y2="216.21"/>
<line class="tk" x1="118.5" x2="122.60" y1="203.48" y2="203.48"/>
<line class="tg" x1="823.4" x2="819.30" y1="203.48" y2="203.48"/>
<line class="tk" x1="118.5" x2="125.10" y1="190.75" y2="190.75"/>
<line class="tg" x1="823.4" x2="816.80" y1="190.75" y2="190.75"/>
<line class="tk" x1="118.5" x2="122.60" y1="178.02" y2="178.02"/>
<line class="tg" x1="823.4" x2="819.30" y1="178.02" y2="178.02"/>
<line class="tk" x1="118.5" x2="122.60" y1="165.29" y2="165.29"/>
<line class="tg" x1="823.4" x2="819.30" y1="165.29" y2="165.29"/>
<line class="tk" x1="118.5" x2="122.60" y1="152.56" y2="152.56"/>
<line class="tg" x1="823.4" x2="819.30" y1="152.56" y2="152.56"/>
<line class="tk" x1="118.5" x2="122.60" y1="139.83" y2="139.83"/>
<line class="tg" x1="823.4" x2="819.30" y1="139.83" y2="139.83"/>
<line class="tk" x1="118.5" x2="125.10" y1="127.10" y2="127.10"/>
<line class="tg" x1="823.4" x2="816.80" y1="127.10" y2="127.10"/>
<line class="tk" x1="118.5" x2="122.60" y1="114.37" y2="114.37"/>
<line class="tg" x1="823.4" x2="819.30" y1="114.37" y2="114.37"/>
<line class="tk" x1="118.5" x2="122.60" y1="101.64" y2="101.64"/>
<line class="tg" x1="823.4" x2="819.30" y1="101.64" y2="101.64"/>
<line class="tk" x1="118.5" x2="122.60" y1="88.91" y2="88.91"/>
<line class="tg" x1="823.4" x2="819.30" y1="88.91" y2="88.91"/>
<line class="tk" x1="118.5" x2="122.60" y1="76.18" y2="76.18"/>
<line class="tg" x1="823.4" x2="819.30" y1="76.18" y2="76.18"/>
<line class="tk" x1="118.5" x2="125.10" y1="63.45" y2="63.45"/>
<line class="tg" x1="823.4" x2="816.80" y1="63.45" y2="63.45"/>
<line class="tk" x1="118.5" x2="122.60" y1="50.72" y2="50.72"/>
<line class="tg" x1="823.4" x2="819.30" y1="50.72" y2="50.72"/>
<line class="tk" x1="118.5" x2="122.60" y1="37.99" y2="37.99"/>
<line class="tg" x1="823.4" x2="819.30" y1="37.99" y2="37.99"/>
<line class="tk" x1="118.5" x2="122.60" y1="25.26" y2="25.26"/>
<line class="tg" x1="823.4" x2="819.30" y1="25.26" y2="25.26"/>
<line class="tk" x1="118.5" x2="122.60" y1="12.53" y2="12.53"/>
<line class="tg" x1="823.4" x2="819.30" y1="12.53" y2="12.53"/>
</g>
<rect x="118.5" y="5.95" width="704.9" height="435.65000000000003" fill="none" stroke="#000" stroke-width="1.5"/>
<g id="labels">
<text class="t" transform="translate(132.50,478.4) scale(1,1.035)" text-anchor="middle">0</text>
<text class="t" transform="translate(267.88,478.4) scale(1,1.035)" text-anchor="middle">2</text>
<text class="t" transform="translate(403.26,478.4) scale(1,1.035)" text-anchor="middle">4</text>
<text class="t" transform="translate(538.64,478.4) scale(1,1.035)" text-anchor="middle">6</text>
<text class="t" transform="translate(674.02,478.4) scale(1,1.035)" text-anchor="middle">8</text>
<text class="t" transform="translate(809.40,478.4) scale(1,1.035)" text-anchor="middle">10</text>
<text class="t" transform="translate(114.06,393.10) scale(1,1.035)" text-anchor="end">0.00</text>
<text class="t" transform="translate(114.06,329.45) scale(1,1.035)" text-anchor="end">0.05</text>
<text class="t" transform="translate(114.06,265.80) scale(1,1.035)" text-anchor="end">0.10</text>
<text class="t" transform="translate(114.06,202.15) scale(1,1.035)" text-anchor="end">0.15</text>
<text class="t" transform="translate(114.06,138.50) scale(1,1.035)" text-anchor="end">0.20</text>
<text class="t" transform="translate(114.06,74.85) scale(1,1.035)" text-anchor="end">0.25</text>
<text class="t" transform="translate(416.23,526.6) scale(1,1.035)" letter-spacing="0.161">p [GeV]</text>
<text transform="translate(35.40,418.23) rotate(-90) scale(0.9690,1.0900) skewX(-7)" font-style="italic" font-size="31.5" letter-spacing="0.000">G</text>
<text transform="translate(19.55,391.50) rotate(-90) scale(1.0000,1.0800)" font-size="22.0" letter-spacing="0.000">CCA</text>
<text transform="translate(35.00,342.92) rotate(-90) scale(1.0000,1.0000)" font-size="31.5" letter-spacing="0.080">(p,p,</text>
<text transform="translate(35.40,275.76) rotate(-90) scale(1.0728,1.0200)" font-style="italic" stroke="none" font-size="31.5" letter-spacing="0.000">π</text>
<text transform="translate(35.00,252.14) rotate(-90) scale(1.0000,1.0000)" font-size="31.5" letter-spacing="-0.251">/2)</text>
<text transform="translate(35.40,206.29) rotate(-90) scale(1.0000,1.0200)" font-size="31.5" letter-spacing="0.044">contributions</text>
</g>
</svg>
</body></html>
